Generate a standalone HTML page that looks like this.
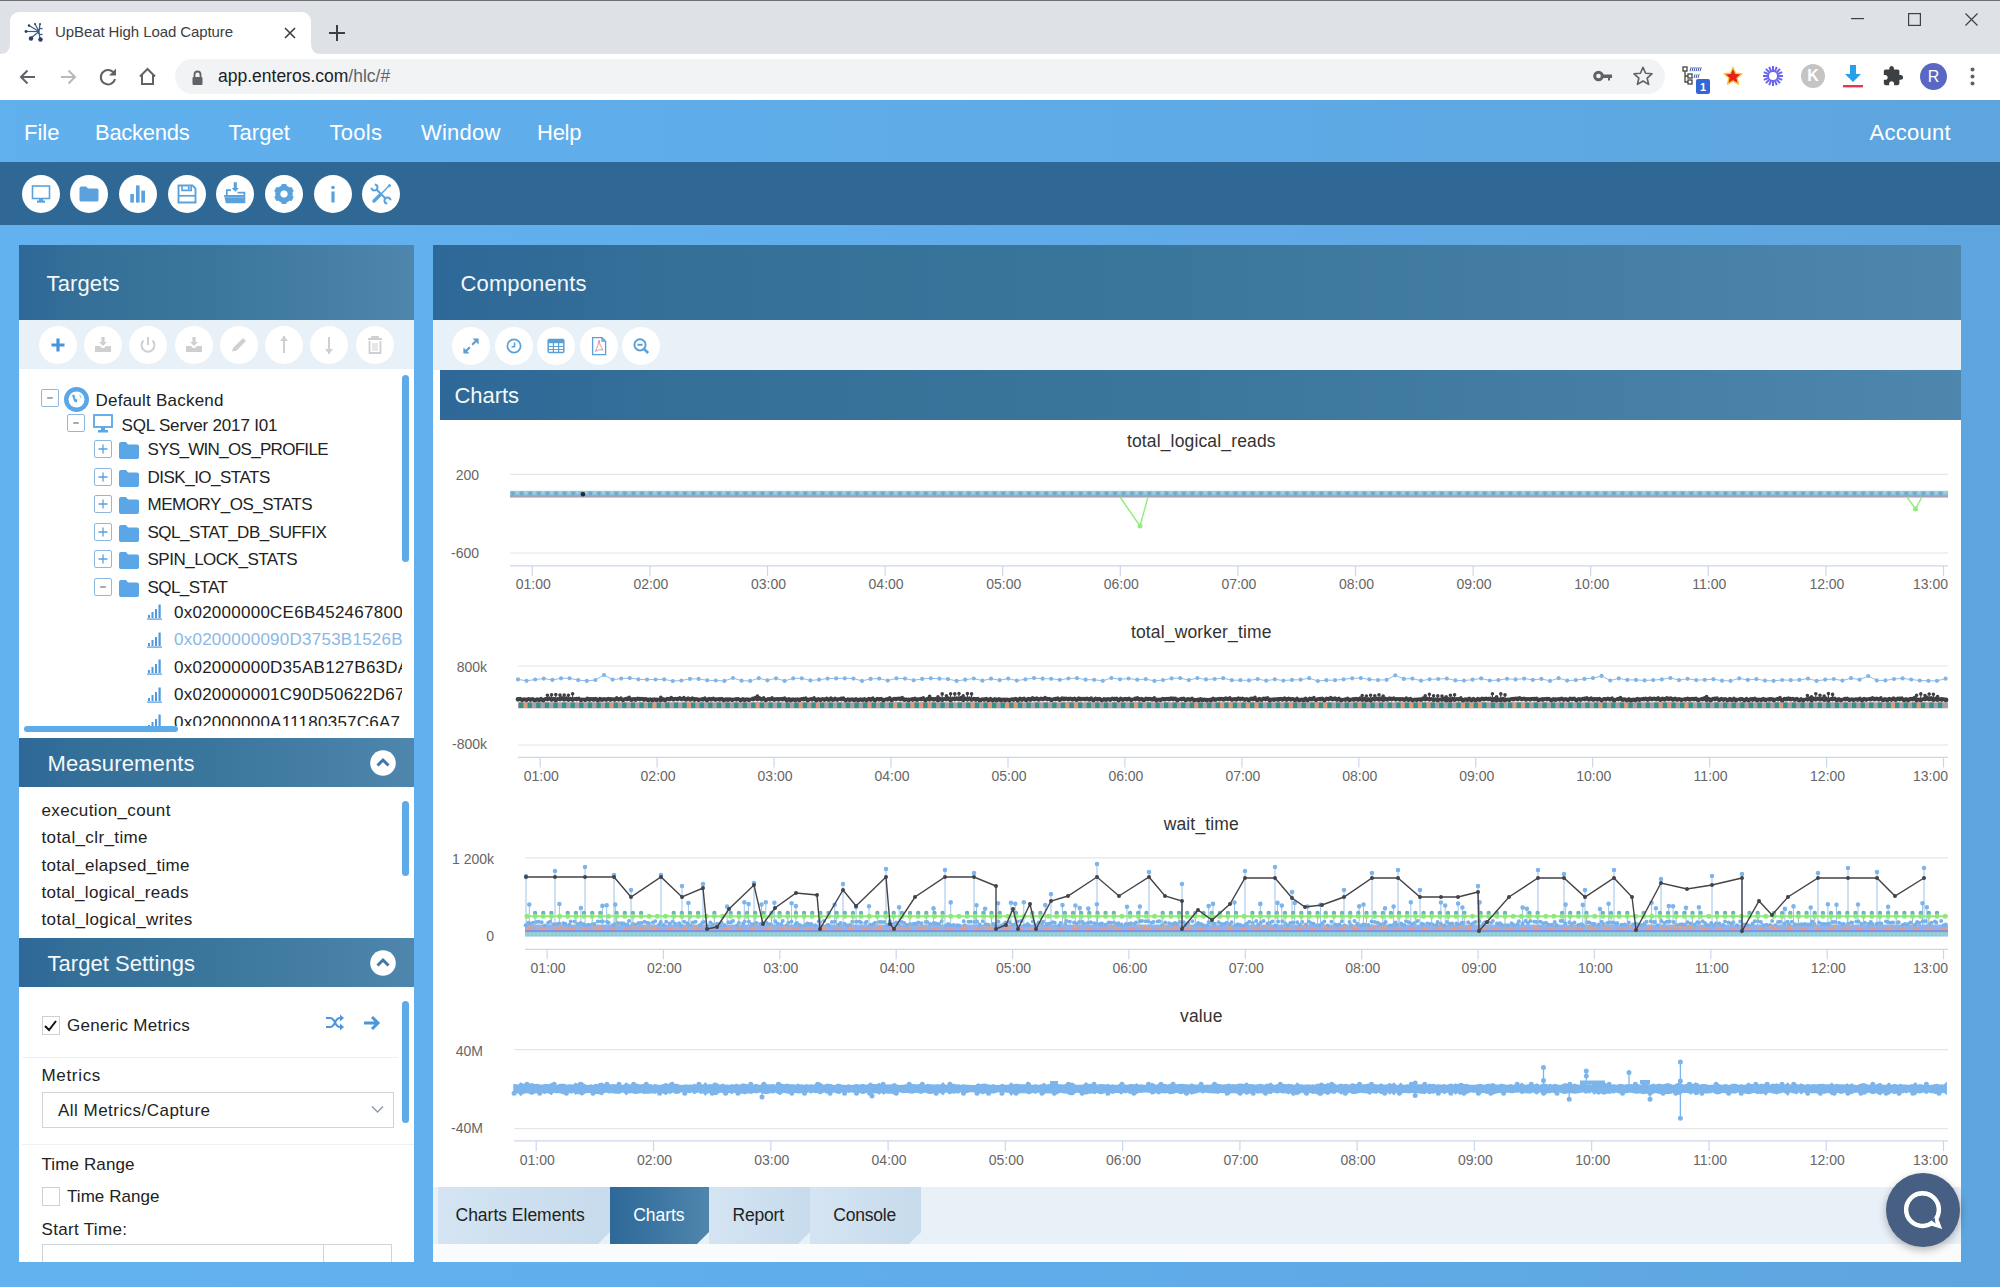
<!DOCTYPE html><html><head><meta charset="utf-8"><title>UpBeat High Load Capture</title><style>
*{box-sizing:border-box;margin:0;padding:0}
html,body{width:2000px;height:1287px;overflow:hidden;background:#62b0ec;font-family:"Liberation Sans",sans-serif}
.a{position:absolute}
.t{position:absolute;white-space:nowrap;line-height:1}
.tbc{position:absolute;width:38px;height:38px;border-radius:50%;background:#fff}
.panel{position:absolute;background:#fff}
.hdr{position:absolute;background:linear-gradient(90deg,#2d6898 0%,#346f98 14%,#3b769c 50%,#4e86ad 100%)}
.ptb{position:absolute;background:#e8f0f8}
.pc{position:absolute;width:38px;height:38px;border-radius:50%;background:#fff}
.sb{position:absolute;width:7px;border-radius:4px;background:#5eabea}
</style></head><body>
<div class="a" style="left:0;top:0;width:2000px;height:54px;background:#dee1e6;border-top:1px solid #6d6f73"></div>
<div class="a" style="left:10px;top:12px;width:301px;height:42px;background:#fff;border-radius:9px 9px 0 0"></div>
<svg class="a" style="left:0;top:44px" width="330" height="10"><path d="M0 10 Q10 10 10 0 L10 10 Z" fill="#fff"/><path d="M311 0 Q311 10 321 10 L311 10 Z" fill="#fff"/></svg>
<svg class="a" style="left:24px;top:22px" width="22" height="22" viewBox="0 0 22 22">
<g stroke="#3d5a8a" stroke-width="1.2" fill="none"><line x1="2" y1="9.5" x2="15" y2="9.5"/><line x1="5" y1="3.5" x2="15" y2="9.5"/><line x1="11" y1="2" x2="15" y2="9.5"/><line x1="16" y1="2" x2="15" y2="9.5"/><line x1="7" y1="16" x2="15" y2="9.5"/><line x1="16" y1="17" x2="15" y2="9.5"/><path d="M18.5 7 A3 3 0 1 0 18.5 12"/></g>
<circle cx="2" cy="9.5" r="1.4" fill="#2b3f66"/><circle cx="7" cy="16.5" r="2.2" fill="#2b3f66"/><circle cx="16.5" cy="17.5" r="2.2" fill="#2b3f66"/><circle cx="5" cy="3.5" r="1.2" fill="#2b3f66"/><circle cx="11" cy="2" r="1" fill="#2b3f66"/><circle cx="16" cy="2" r="1" fill="#2b3f66"/>
</svg>
<div class="t" style="left:55.0px;top:24.10px;font-size:15.00px;color:#3c4043;letter-spacing:-0.09px;">UpBeat High Load Capture</div>
<svg class="a" style="left:284px;top:27px" width="12" height="12"><path d="M1 1L11 11M11 1L1 11" stroke="#3c4043" stroke-width="1.6"/></svg>
<svg class="a" style="left:329px;top:25px" width="16" height="16"><path d="M8 0V16M0 8H16" stroke="#3c4043" stroke-width="2"/></svg>
<svg class="a" style="left:1851px;top:18px" width="13" height="2"><rect width="13" height="1.2" fill="#3c4043"/></svg>
<svg class="a" style="left:1908px;top:13px" width="13" height="13"><rect x="0.6" y="0.6" width="11.8" height="11.8" fill="none" stroke="#3c4043" stroke-width="1.2"/></svg>
<svg class="a" style="left:1965px;top:13px" width="13" height="13"><path d="M0.5 0.5L12.5 12.5M12.5 0.5L0.5 12.5" stroke="#3c4043" stroke-width="1.2"/></svg>
<div class="a" style="left:0;top:54px;width:2000px;height:46px;background:#fff"></div>
<svg class="a" style="left:18px;top:67px" width="20" height="20"><path d="M17 10H3M9.5 3.5L3 10l6.5 6.5" fill="none" stroke="#5f6368" stroke-width="2"/></svg>
<svg class="a" style="left:58px;top:67px" width="20" height="20"><path d="M3 10H17M10.5 3.5L17 10l-6.5 6.5" fill="none" stroke="#b7b9bc" stroke-width="2"/></svg>
<svg class="a" style="left:97px;top:66px" width="22" height="22" viewBox="0 0 22 22"><path d="M17.2 7.5A7.2 7.2 0 1 0 18 13" fill="none" stroke="#5f6368" stroke-width="2"/><path d="M19 2.5V9.5H12Z" fill="#5f6368"/></svg>
<svg class="a" style="left:137px;top:66px" width="21" height="21" viewBox="0 0 21 21"><path d="M3 10.5L10.5 3L18 10.5M5 8.5V18H16V8.5" fill="none" stroke="#5f6368" stroke-width="2"/></svg>
<div class="a" style="left:175px;top:59px;width:1490px;height:35px;background:#f1f3f4;border-radius:18px"></div>
<svg class="a" style="left:191px;top:69.5px" width="13" height="16" viewBox="0 0 13 16"><path d="M3.5 7V4.5a3 3 0 0 1 6 0V7" fill="none" stroke="#5f6368" stroke-width="1.8"/><rect x="1.5" y="7" width="10" height="8" rx="1" fill="#5f6368"/></svg>
<div class="t" style="left:218.0px;top:68.19px;font-size:17.50px;color:#202124;">app.enteros.com<span style="color:#5f6368">/hlc/#</span></div>
<svg class="a" style="left:1593px;top:69px" width="20" height="14" viewBox="0 0 20 14"><circle cx="5.5" cy="7" r="3.8" fill="none" stroke="#5f6368" stroke-width="3"/><path d="M9 5.5H19V9H17V11.5H15V9H9Z" fill="#5f6368"/></svg>
<svg class="a" style="left:1632px;top:65px" width="22" height="22" viewBox="0 0 24 24"><path d="M12 2.5l2.8 6.5 7 .6-5.3 4.6 1.6 6.9L12 17.4 5.9 21.1l1.6-6.9L2.2 9.6l7-.6z" fill="none" stroke="#5f6368" stroke-width="1.8" stroke-linejoin="round"/></svg>
<svg class="a" style="left:1682px;top:66px" width="30" height="30" viewBox="0 0 30 30">
<g fill="none" stroke="#444" stroke-width="1.3"><rect x="1" y="1" width="4" height="4"/><rect x="6" y="8" width="4" height="4"/><rect x="6" y="14" width="4" height="4"/><path d="M3 5V16H6M3 10H6"/></g>
<g stroke="#3a58a8" stroke-width="1"><path d="M8.0 5.2L9.2 1.2M10.0 5.2L11.2 1.2M12.0 5.2L13.2 1.2M14.0 5.2L15.2 1.2M16.0 5.2L17.2 1.2M18.0 5.2L19.2 1.2M12.0 12L13.1 8.3M14.0 12L15.1 8.3M16.0 12L17.1 8.3"/></g>
<rect x="14" y="13" width="14" height="15" rx="2" fill="#3367d6"/><text x="21" y="25" font-size="11" font-weight="bold" fill="#fff" text-anchor="middle" font-family="Liberation Sans">1</text></svg>
<svg class="a" style="left:1722px;top:65px" width="22" height="22" viewBox="0 0 24 24"><path d="M12 2.5l2.8 6.5 7 .6-5.3 4.6 1.6 6.9L12 17.4 5.9 21.1l1.6-6.9L2.2 9.6l7-.6z" fill="#e8221b" stroke="#f7c948" stroke-width="1.5" stroke-linejoin="round"/></svg>
<svg class="a" style="left:1761px;top:64px" width="24" height="24" viewBox="0 0 24 24"><g stroke="#6b63ee" stroke-width="2"><line x1="12" y1="12" x2="22.0" y2="12.0"/><line x1="12" y1="12" x2="21.2" y2="15.8"/><line x1="12" y1="12" x2="19.1" y2="19.1"/><line x1="12" y1="12" x2="15.8" y2="21.2"/><line x1="12" y1="12" x2="12.0" y2="22.0"/><line x1="12" y1="12" x2="8.2" y2="21.2"/><line x1="12" y1="12" x2="4.9" y2="19.1"/><line x1="12" y1="12" x2="2.8" y2="15.8"/><line x1="12" y1="12" x2="2.0" y2="12.0"/><line x1="12" y1="12" x2="2.8" y2="8.2"/><line x1="12" y1="12" x2="4.9" y2="4.9"/><line x1="12" y1="12" x2="8.2" y2="2.8"/><line x1="12" y1="12" x2="12.0" y2="2.0"/><line x1="12" y1="12" x2="15.8" y2="2.8"/><line x1="12" y1="12" x2="19.1" y2="4.9"/><line x1="12" y1="12" x2="21.2" y2="8.2"/></g><circle cx="12" cy="12" r="4" fill="#fff"/></svg>
<div class="a" style="left:1801px;top:64px;width:24px;height:24px;border-radius:50%;background:#c4c4c4;color:#fff;font-size:16px;text-align:center;line-height:24px;font-weight:bold">K</div>
<svg class="a" style="left:1842px;top:63px" width="22" height="26" viewBox="0 0 22 26"><path d="M8 2H14V11H19L11 19L3 11H8Z" fill="#27a0ec"/><rect x="1" y="22" width="20" height="2.4" fill="#e8325a"/></svg>
<svg class="a" style="left:1882px;top:65px" width="22" height="22" viewBox="0 0 24 24"><path d="M20.5 11H19V7c0-1.1-.9-2-2-2h-4V3.5C13 2.1 11.9 1 10.5 1S8 2.1 8 3.5V5H4c-1.1 0-2 .9-2 2v3.8h1.5c1.5 0 2.7 1.2 2.7 2.7S5 16.2 3.5 16.2H2V20c0 1.1.9 2 2 2h3.8v-1.5c0-1.5 1.2-2.7 2.7-2.7s2.7 1.2 2.7 2.7V22H17c1.1 0 2-.9 2-2v-4h1.5c1.4 0 2.5-1.1 2.5-2.5S21.9 11 20.5 11z" fill="#3c4043"/></svg>
<div class="a" style="left:1920px;top:63px;width:27px;height:27px;border-radius:50%;background:#5a68c4;color:#fff;font-size:16px;text-align:center;line-height:27px">R</div>
<svg class="a" style="left:1970px;top:67px" width="5" height="19"><circle cx="2.5" cy="2.5" r="2" fill="#5f6368"/><circle cx="2.5" cy="9.5" r="2" fill="#5f6368"/><circle cx="2.5" cy="16.5" r="2" fill="#5f6368"/></svg>
<div class="a" style="left:0;top:100px;width:2000px;height:62px;background:linear-gradient(90deg,#60b0ee,#5eaae6 60%,#5da5de)"></div>
<div class="t" style="left:24.0px;top:121.68px;font-size:22.00px;color:#fff;">File</div>
<div class="t" style="left:95.0px;top:121.68px;font-size:22.00px;color:#fff;letter-spacing:-0.27px;">Backends</div>
<div class="t" style="left:228.5px;top:121.68px;font-size:22.00px;color:#fff;letter-spacing:0.05px;">Target</div>
<div class="t" style="left:329.5px;top:121.68px;font-size:22.00px;color:#fff;letter-spacing:0.29px;">Tools</div>
<div class="t" style="left:421.0px;top:121.68px;font-size:22.00px;color:#fff;letter-spacing:0.23px;">Window</div>
<div class="t" style="left:537.0px;top:121.68px;font-size:22.00px;color:#fff;letter-spacing:-0.25px;">Help</div>
<div class="t" style="left:1869.5px;top:121.68px;font-size:22.00px;color:#fff;letter-spacing:0.25px;">Account</div>
<div class="a" style="left:0;top:162px;width:2000px;height:63px;background:#2f6895"></div>
<div class="tbc" style="left:21.5px;top:175px"></div>
<svg class="a" style="left:28.5px;top:182px" width="24" height="24" viewBox="-12 -12 24 24"><rect x="-8.5" y="-8" width="17" height="12.5" fill="none" stroke="#5ba2dc" stroke-width="1.6"/><rect x="-2" y="5" width="4" height="2" fill="#5ba2dc"/><rect x="-4" y="6.5" width="8" height="2.2" fill="#5ba2dc"/></svg>
<div class="tbc" style="left:70.2px;top:175px"></div>
<svg class="a" style="left:77.2px;top:182px" width="24" height="24" viewBox="-12 -12 24 24"><path d="M-9.5 -5.5Q-9.5 -7.5 -7.5 -7.5H-3L-1 -5.5H8Q9.5 -5.5 9.5 -4V6Q9.5 7.5 8 7.5H-8Q-9.5 7.5 -9.5 6Z" fill="#5ba2dc"/></svg>
<div class="tbc" style="left:118.9px;top:175px"></div>
<svg class="a" style="left:125.9px;top:182px" width="24" height="24" viewBox="-12 -12 24 24"><rect x="-7.7" y="0" width="3.6" height="8.6" fill="#5ba2dc"/><rect x="-2" y="-8.6" width="3.6" height="17.2" fill="#5ba2dc"/><rect x="3.3" y="-3.4" width="3.7" height="12" fill="#5ba2dc"/></svg>
<div class="tbc" style="left:167.6px;top:175px"></div>
<svg class="a" style="left:174.6px;top:182px" width="24" height="24" viewBox="-12 -12 24 24"><path d="M-8.5 -8.5H5.5L8.5 -5.5V8.5H-8.5Z" fill="none" stroke="#5ba2dc" stroke-width="1.9"/><path d="M-5 -8.5V-3.6H4.2V-8.5" fill="none" stroke="#5ba2dc" stroke-width="1.6"/><rect x="0.8" y="-7.6" width="1.9" height="3" fill="#5ba2dc"/><path d="M-8.5 1.8H8.5" stroke="#5ba2dc" stroke-width="1.7"/></svg>
<div class="tbc" style="left:216.3px;top:175px"></div>
<svg class="a" style="left:223.3px;top:182px" width="24" height="24" viewBox="-12 -12 24 24"><path d="M-1.3 -11.7H1.9V-6H4L0.3 -2.3L-3.4 -6H-1.3Z" fill="#5ba2dc"/><path d="M-8.2 2V-3.8H-4M2.5 -1.3H9.4V9" fill="none" stroke="#5ba2dc" stroke-width="1.8"/><path d="M-11 1H9.8V9.2H-9.2Z" fill="#5ba2dc"/><path d="M-10 3.4H9" stroke="#8cc0ec" stroke-width="0.8"/></svg>
<div class="tbc" style="left:265.0px;top:175px"></div>
<svg class="a" style="left:272.0px;top:182px" width="24" height="24" viewBox="-12 -12 24 24"><circle r="6.2" fill="none" stroke="#5ba2dc" stroke-width="5.2"/><rect x="-2.6" y="-10" width="5.2" height="5" rx="1" fill="#5ba2dc" transform="rotate(0)"/><rect x="-2.6" y="-10" width="5.2" height="5" rx="1" fill="#5ba2dc" transform="rotate(60)"/><rect x="-2.6" y="-10" width="5.2" height="5" rx="1" fill="#5ba2dc" transform="rotate(120)"/><rect x="-2.6" y="-10" width="5.2" height="5" rx="1" fill="#5ba2dc" transform="rotate(180)"/><rect x="-2.6" y="-10" width="5.2" height="5" rx="1" fill="#5ba2dc" transform="rotate(240)"/><rect x="-2.6" y="-10" width="5.2" height="5" rx="1" fill="#5ba2dc" transform="rotate(300)"/><circle r="3.3" fill="#fff"/></svg>
<div class="tbc" style="left:313.7px;top:175px"></div>
<svg class="a" style="left:320.7px;top:182px" width="24" height="24" viewBox="-12 -12 24 24"><circle cx="0" cy="-6.5" r="1.8" fill="#5ba2dc"/><rect x="-1.6" y="-2.5" width="3.2" height="11" fill="#5ba2dc"/></svg>
<div class="tbc" style="left:362.4px;top:175px"></div>
<svg class="a" style="left:369.4px;top:182px" width="24" height="24" viewBox="-12 -12 24 24"><path d="M-4.8 -4.8L5 5" stroke="#5ba2dc" stroke-width="2.1"/><path d="M-6.24 -9.49A3 3 0 1 1 -9.49 -6.24M6.24 9.49A3 3 0 1 1 9.49 6.24" fill="none" stroke="#5ba2dc" stroke-width="2"/><path d="M8.2 -8.2L0 0" stroke="#5ba2dc" stroke-width="1.5"/><path d="M9.4 -9.4L7.6 -7.6" stroke="#5ba2dc" stroke-width="2.6"/><path d="M-1.5 1.5L-7 7" stroke="#5ba2dc" stroke-width="3.4" stroke-linecap="round"/></svg>
<div class="a" style="left:0;top:225px;width:2000px;height:1062px;background:linear-gradient(90deg,#63b2f0 0%,#60acea 50%,#5da5de 100%)"></div>
<div class="panel" style="left:19px;top:245px;width:395px;height:1017px"></div>
<div class="hdr" style="left:19px;top:245px;width:395px;height:75px"></div>
<div class="t" style="left:46.5px;top:272.68px;font-size:22.00px;color:#f4f8fb;letter-spacing:0.14px;">Targets</div>
<div class="ptb" style="left:19px;top:320px;width:395px;height:49px"></div>
<div class="pc" style="left:38.6px;top:326px"></div>
<svg class="a" style="left:45.6px;top:333px" width="24" height="24" viewBox="-12 -12 24 24"><path d="M-6.5 0H6.5M0 -6.5V6.5" stroke="#4a93dc" stroke-width="3.2"/></svg>
<div class="pc" style="left:83.9px;top:326px"></div>
<svg class="a" style="left:90.9px;top:333px" width="24" height="24" viewBox="-12 -12 24 24"><path d="M-1.6 -8H1.6V-3H4L0 1L-4 -3H-1.6Z M-8 1H-3L-1 3H1L3 1H8V7H-8Z" fill="#cfcfcf"/></svg>
<div class="pc" style="left:129.2px;top:326px"></div>
<svg class="a" style="left:136.2px;top:333px" width="24" height="24" viewBox="-12 -12 24 24"><path d="M-4.5 -4.5A6.5 6.5 0 1 0 4.5 -4.5" fill="none" stroke="#cfcfcf" stroke-width="2"/><path d="M0 -8V0" stroke="#cfcfcf" stroke-width="2"/></svg>
<div class="pc" style="left:174.5px;top:326px"></div>
<svg class="a" style="left:181.5px;top:333px" width="24" height="24" viewBox="-12 -12 24 24"><path d="M-1.6 -8H1.6V-3H4L0 1L-4 -3H-1.6Z M-8 1H-3L-1 3H1L3 1H8V7H-8Z" fill="#cfcfcf"/></svg>
<div class="pc" style="left:219.8px;top:326px"></div>
<svg class="a" style="left:226.8px;top:333px" width="24" height="24" viewBox="-12 -12 24 24"><path d="M-6 6L-7 7L-6 3L4 -7L7 -4L-3 6Z" fill="#cfcfcf"/></svg>
<div class="pc" style="left:265.1px;top:326px"></div>
<svg class="a" style="left:272.1px;top:333px" width="24" height="24" viewBox="-12 -12 24 24"><path d="M0 -9V8" stroke="#cfcfcf" stroke-width="2"/><path d="M-4 -4L0 -9L4 -4Z" fill="#cfcfcf"/></svg>
<div class="pc" style="left:310.4px;top:326px"></div>
<svg class="a" style="left:317.4px;top:333px" width="24" height="24" viewBox="-12 -12 24 24"><path d="M0 -8V9" stroke="#cfcfcf" stroke-width="2"/><path d="M-4 4L0 9L4 4Z" fill="#cfcfcf"/></svg>
<div class="pc" style="left:355.7px;top:326px"></div>
<svg class="a" style="left:362.7px;top:333px" width="24" height="24" viewBox="-12 -12 24 24"><path d="M-7 -6H7M-3 -6V-8H3V-6M-5.5 -4V8H5.5V-4" fill="none" stroke="#cfcfcf" stroke-width="1.8"/><path d="M-2 -2V6M0 -2V6M2 -2V6" stroke="#cfcfcf" stroke-width="1"/></svg>
<div class="a" style="left:19px;top:369px;width:383px;height:357px;overflow:hidden">
<div class="a" style="left:22.0px;top:20.0px;width:18px;height:18px;border:1px solid #8fb8e0;border-radius:2px;background:#fff"></div><svg class="a" style="left:22.0px;top:20.0px" width="18" height="18"><path d="M6.2 9H11.8" stroke="#6f7f90" stroke-width="1.3"/></svg><svg class="a" style="left:45px;top:18px" width="25" height="25" viewBox="0 0 25 25"><circle cx="12.5" cy="12.5" r="12.5" fill="#5aa6e6"/><circle cx="12.5" cy="12.5" r="8" fill="#fff"/><path d="M8 8Q10 7 11 9Q10 11 12 12Q14 12 13 15Q11 16 10 14Q9 11 8 8ZM15 7Q17 9 18 12Q16 11 15 7Z" fill="#5aa6e6"/></svg><div class="t" style="left:76.5px;top:22.61px;font-size:17.00px;color:#222;letter-spacing:0.23px;">Default Backend</div><div class="a" style="left:48.0px;top:45.0px;width:18px;height:18px;border:1px solid #8fb8e0;border-radius:2px;background:#fff"></div><svg class="a" style="left:48.0px;top:45.0px" width="18" height="18"><path d="M6.2 9H11.8" stroke="#6f7f90" stroke-width="1.3"/></svg><svg class="a" style="left:74px;top:45px" width="20" height="19" viewBox="0 0 20 19"><rect x="1" y="1" width="18" height="12" fill="none" stroke="#5aa6e6" stroke-width="1.8"/><rect x="8" y="13" width="4" height="3" fill="#5aa6e6"/><rect x="5" y="16" width="10" height="2.5" fill="#5aa6e6"/></svg><div class="t" style="left:102.5px;top:47.61px;font-size:17.00px;color:#222;letter-spacing:-0.17px;">SQL Server 2017 I01</div><div class="a" style="left:75.0px;top:71.1px;width:18px;height:18px;border:1px solid #8fb8e0;border-radius:2px;background:#fff"></div><svg class="a" style="left:75.0px;top:71.1px" width="18" height="18"><path d="M9 4.5V13.5M4.5 9H13.5" stroke="#5aa0dc" stroke-width="1.3"/></svg><svg class="a" style="left:100.0px;top:73.1px" width="20" height="17" viewBox="0 0 20 17"><path d="M0 2Q0 0 2 0H7L9 2.5H18Q20 2.5 20 4.5V15Q20 17 18 17H2Q0 17 0 15Z" fill="#5aa6e6"/></svg><div class="t" style="left:128.5px;top:72.21px;font-size:17.00px;color:#222;letter-spacing:-0.69px;">SYS_WIN_OS_PROFILE</div><div class="a" style="left:75.0px;top:98.5px;width:18px;height:18px;border:1px solid #8fb8e0;border-radius:2px;background:#fff"></div><svg class="a" style="left:75.0px;top:98.5px" width="18" height="18"><path d="M9 4.5V13.5M4.5 9H13.5" stroke="#5aa0dc" stroke-width="1.3"/></svg><svg class="a" style="left:100.0px;top:100.5px" width="20" height="17" viewBox="0 0 20 17"><path d="M0 2Q0 0 2 0H7L9 2.5H18Q20 2.5 20 4.5V15Q20 17 18 17H2Q0 17 0 15Z" fill="#5aa6e6"/></svg><div class="t" style="left:128.5px;top:99.61px;font-size:17.00px;color:#222;letter-spacing:-0.50px;">DISK_IO_STATS</div><div class="a" style="left:75.0px;top:125.9px;width:18px;height:18px;border:1px solid #8fb8e0;border-radius:2px;background:#fff"></div><svg class="a" style="left:75.0px;top:125.9px" width="18" height="18"><path d="M9 4.5V13.5M4.5 9H13.5" stroke="#5aa0dc" stroke-width="1.3"/></svg><svg class="a" style="left:100.0px;top:127.9px" width="20" height="17" viewBox="0 0 20 17"><path d="M0 2Q0 0 2 0H7L9 2.5H18Q20 2.5 20 4.5V15Q20 17 18 17H2Q0 17 0 15Z" fill="#5aa6e6"/></svg><div class="t" style="left:128.5px;top:127.01px;font-size:17.00px;color:#222;letter-spacing:-0.49px;">MEMORY_OS_STATS</div><div class="a" style="left:75.0px;top:153.5px;width:18px;height:18px;border:1px solid #8fb8e0;border-radius:2px;background:#fff"></div><svg class="a" style="left:75.0px;top:153.5px" width="18" height="18"><path d="M9 4.5V13.5M4.5 9H13.5" stroke="#5aa0dc" stroke-width="1.3"/></svg><svg class="a" style="left:100.0px;top:155.5px" width="20" height="17" viewBox="0 0 20 17"><path d="M0 2Q0 0 2 0H7L9 2.5H18Q20 2.5 20 4.5V15Q20 17 18 17H2Q0 17 0 15Z" fill="#5aa6e6"/></svg><div class="t" style="left:128.5px;top:154.61px;font-size:17.00px;color:#222;letter-spacing:-0.47px;">SQL_STAT_DB_SUFFIX</div><div class="a" style="left:75.0px;top:181.3px;width:18px;height:18px;border:1px solid #8fb8e0;border-radius:2px;background:#fff"></div><svg class="a" style="left:75.0px;top:181.3px" width="18" height="18"><path d="M9 4.5V13.5M4.5 9H13.5" stroke="#5aa0dc" stroke-width="1.3"/></svg><svg class="a" style="left:100.0px;top:183.3px" width="20" height="17" viewBox="0 0 20 17"><path d="M0 2Q0 0 2 0H7L9 2.5H18Q20 2.5 20 4.5V15Q20 17 18 17H2Q0 17 0 15Z" fill="#5aa6e6"/></svg><div class="t" style="left:128.5px;top:182.41px;font-size:17.00px;color:#222;letter-spacing:-0.50px;">SPIN_LOCK_STATS</div><div class="a" style="left:75.0px;top:208.8px;width:18px;height:18px;border:1px solid #8fb8e0;border-radius:2px;background:#fff"></div><svg class="a" style="left:75.0px;top:208.8px" width="18" height="18"><path d="M6.2 9H11.8" stroke="#6f7f90" stroke-width="1.3"/></svg><svg class="a" style="left:100.0px;top:210.8px" width="20" height="17" viewBox="0 0 20 17"><path d="M0 2Q0 0 2 0H7L9 2.5H18Q20 2.5 20 4.5V15Q20 17 18 17H2Q0 17 0 15Z" fill="#5aa6e6"/></svg><div class="t" style="left:128.5px;top:209.91px;font-size:17.00px;color:#222;letter-spacing:-0.56px;">SQL_STAT</div><svg class="a" style="left:128.0px;top:235.4px" width="16" height="16" viewBox="0 0 16 16"><g fill="#4f9be0"><rect x="1" y="11" width="2" height="3"/><rect x="4.5" y="8" width="2" height="6"/><rect x="8" y="5" width="2" height="9"/><rect x="11.5" y="0.5" width="2.2" height="13.5"/><rect x="0" y="14.5" width="15" height="1.2"/></g></svg><div class="t" style="left:155.0px;top:235.01px;font-size:17.00px;color:#222;letter-spacing:0.25px;">0x02000000CE6B452467800</div><svg class="a" style="left:128.0px;top:262.9px" width="16" height="16" viewBox="0 0 16 16"><g fill="#4f9be0"><rect x="1" y="11" width="2" height="3"/><rect x="4.5" y="8" width="2" height="6"/><rect x="8" y="5" width="2" height="9"/><rect x="11.5" y="0.5" width="2.2" height="13.5"/><rect x="0" y="14.5" width="15" height="1.2"/></g></svg><div class="t" style="left:155.0px;top:262.46px;font-size:17.00px;color:#8ab8e6;letter-spacing:0.25px;">0x0200000090D3753B1526B</div><svg class="a" style="left:128.0px;top:290.3px" width="16" height="16" viewBox="0 0 16 16"><g fill="#4f9be0"><rect x="1" y="11" width="2" height="3"/><rect x="4.5" y="8" width="2" height="6"/><rect x="8" y="5" width="2" height="9"/><rect x="11.5" y="0.5" width="2.2" height="13.5"/><rect x="0" y="14.5" width="15" height="1.2"/></g></svg><div class="t" style="left:155.0px;top:289.91px;font-size:17.00px;color:#222;letter-spacing:0.25px;">0x02000000D35AB127B63DA</div><svg class="a" style="left:128.0px;top:317.8px" width="16" height="16" viewBox="0 0 16 16"><g fill="#4f9be0"><rect x="1" y="11" width="2" height="3"/><rect x="4.5" y="8" width="2" height="6"/><rect x="8" y="5" width="2" height="9"/><rect x="11.5" y="0.5" width="2.2" height="13.5"/><rect x="0" y="14.5" width="15" height="1.2"/></g></svg><div class="t" style="left:155.0px;top:317.36px;font-size:17.00px;color:#222;letter-spacing:0.25px;">0x020000001C90D50622D67</div><svg class="a" style="left:128.0px;top:345.2px" width="16" height="16" viewBox="0 0 16 16"><g fill="#4f9be0"><rect x="1" y="11" width="2" height="3"/><rect x="4.5" y="8" width="2" height="6"/><rect x="8" y="5" width="2" height="9"/><rect x="11.5" y="0.5" width="2.2" height="13.5"/><rect x="0" y="14.5" width="15" height="1.2"/></g></svg><div class="t" style="left:155.0px;top:344.81px;font-size:17.00px;color:#222;letter-spacing:0.25px;">0x02000000A11180357C6A7</div>
</div>
<div class="sb" style="left:402px;top:375px;height:187px"></div>
<div class="a" style="left:24px;top:725.5px;width:154px;height:6.5px;border-radius:4px;background:#5eabea"></div>
<div class="hdr" style="left:19px;top:738px;width:395px;height:49px"></div>
<div class="t" style="left:47.5px;top:752.68px;font-size:22.00px;color:#f4f8fb;letter-spacing:0.14px;">Measurements</div>
<svg class="a" style="left:370.0px;top:749.7px" width="26" height="26" viewBox="0 0 26 26"><circle cx="13" cy="13" r="12.8" fill="#fff"/><path d="M7.5 15.5L13 10L18.5 15.5" fill="none" stroke="#3f77a5" stroke-width="3"/></svg>
<div class="t" style="left:41.5px;top:801.91px;font-size:17.00px;color:#222;letter-spacing:0.36px;">execution_count</div>
<div class="t" style="left:41.5px;top:829.26px;font-size:17.00px;color:#222;letter-spacing:0.38px;">total_clr_time</div>
<div class="t" style="left:41.5px;top:856.61px;font-size:17.00px;color:#222;letter-spacing:0.31px;">total_elapsed_time</div>
<div class="t" style="left:41.5px;top:883.96px;font-size:17.00px;color:#222;letter-spacing:0.29px;">total_logical_reads</div>
<div class="t" style="left:41.5px;top:911.31px;font-size:17.00px;color:#222;letter-spacing:0.38px;">total_logical_writes</div>
<div class="sb" style="left:402px;top:801px;height:75px"></div>
<div class="hdr" style="left:19px;top:938px;width:395px;height:49px"></div>
<div class="t" style="left:47.5px;top:952.68px;font-size:22.00px;color:#f4f8fb;letter-spacing:0.05px;">Target Settings</div>
<svg class="a" style="left:370.0px;top:949.7px" width="26" height="26" viewBox="0 0 26 26"><circle cx="13" cy="13" r="12.8" fill="#fff"/><path d="M7.5 15.5L13 10L18.5 15.5" fill="none" stroke="#3f77a5" stroke-width="3"/></svg>
<div class="a" style="left:41.5px;top:1016px;width:18.5px;height:19px;border:1px solid #d0d0d0;background:#fff"></div>
<svg class="a" style="left:43px;top:1018px" width="15" height="15"><path d="M2 8L6 12L13 3" fill="none" stroke="#111" stroke-width="2"/></svg>
<div class="t" style="left:67.0px;top:1016.91px;font-size:17.00px;color:#222;letter-spacing:0.26px;">Generic Metrics</div>
<svg class="a" style="left:325px;top:1014px" width="20" height="17" viewBox="0 0 20 17"><path d="M1 4H5Q8 4 10 8.5Q12 13 15 13H18M1 13H5Q8 13 10 8.5Q12 4 15 4H18" fill="none" stroke="#4c97da" stroke-width="2"/><path d="M15 0.5L19 4L15 7.5ZM15 9.5L19 13L15 16.5Z" fill="#4c97da"/></svg>
<svg class="a" style="left:363px;top:1015px" width="18" height="16" viewBox="0 0 18 16"><path d="M1 8H15M9 2L15 8L9 14" fill="none" stroke="#4c97da" stroke-width="3"/></svg>
<div class="a" style="left:22px;top:1057px;width:376px;height:1px;background:#eef0f2"></div>
<div class="t" style="left:41.5px;top:1067.41px;font-size:17.00px;color:#222;letter-spacing:0.67px;">Metrics</div>
<div class="a" style="left:42px;top:1092px;width:352px;height:36px;border:1px solid #cfd4d9;background:#fff"></div>
<div class="t" style="left:58.0px;top:1101.91px;font-size:17.00px;color:#222;letter-spacing:0.47px;">All Metrics/Capture</div>
<svg class="a" style="left:371px;top:1105px" width="13" height="9"><path d="M1 1.5L6.5 7L12 1.5" fill="none" stroke="#8a9bb0" stroke-width="1.5"/></svg>
<div class="sb" style="left:402px;top:1001px;height:122px"></div>
<div class="a" style="left:22px;top:1144px;width:392px;height:1px;background:#eef0f2"></div>
<div class="t" style="left:41.5px;top:1155.61px;font-size:17.00px;color:#222;letter-spacing:0.12px;">Time Range</div>
<div class="a" style="left:41.5px;top:1187px;width:18.5px;height:19px;border:1px solid #d0d0d0;background:#fff"></div>
<div class="t" style="left:67.0px;top:1187.61px;font-size:17.00px;color:#222;letter-spacing:0.06px;">Time Range</div>
<div class="t" style="left:41.5px;top:1220.61px;font-size:17.00px;color:#222;letter-spacing:0.32px;">Start Time:</div>
<div class="a" style="left:42px;top:1244px;width:350px;height:20px;border:1px solid #cfd4d9;border-bottom:none"></div>
<div class="a" style="left:323px;top:1244px;width:1px;height:18px;background:#cfd4d9"></div>
<div class="a" style="left:0;top:1262px;width:2000px;height:25px;background:linear-gradient(90deg,#63b2f0 0%,#60acea 50%,#5da5de 100%)"></div>
<div class="panel" style="left:433px;top:245px;width:1528px;height:1017px"></div>
<div class="hdr" style="left:433px;top:245px;width:1528px;height:75px"></div>
<div class="t" style="left:460.5px;top:272.68px;font-size:22.00px;color:#f4f8fb;letter-spacing:0.14px;">Components</div>
<div class="ptb" style="left:433px;top:320px;width:1528px;height:50px"></div>
<div class="pc" style="left:452.0px;top:327px"></div>
<svg class="a" style="left:459.0px;top:334px" width="24" height="24" viewBox="-12 -12 24 24"><path d="M-5.2 5.2L-1.2 1.2M1.2 -1.2L5.2 -5.2" stroke="#5a9fd8" stroke-width="2.2"/><path d="M1.5 -7.6H7.6V-1.5Z M-7.6 1.5V7.6H-1.5Z" fill="#5a9fd8"/></svg>
<div class="pc" style="left:494.6px;top:327px"></div>
<svg class="a" style="left:501.6px;top:334px" width="24" height="24" viewBox="-12 -12 24 24"><circle r="6.6" fill="none" stroke="#5a9fd8" stroke-width="1.7"/><path d="M0.5 -3.5V0.8H-2.5" fill="none" stroke="#5a9fd8" stroke-width="1.6"/></svg>
<div class="pc" style="left:537.2px;top:327px"></div>
<svg class="a" style="left:544.2px;top:334px" width="24" height="24" viewBox="-12 -12 24 24"><rect x="-7.8" y="-6.4" width="15.6" height="12.8" rx="1" fill="none" stroke="#5a9fd8" stroke-width="1.5"/><rect x="-7.8" y="-6.4" width="15.6" height="3.6" fill="#5a9fd8"/><path d="M-7.8 0.5H7.8M-7.8 3.5H7.8M-2.6 -6V6M2.6 -6V6" stroke="#5a9fd8" stroke-width="1.2"/></svg>
<div class="pc" style="left:579.8px;top:327px"></div>
<svg class="a" style="left:586.8px;top:334px" width="24" height="24" viewBox="-12 -12 24 24"><path d="M-6.4 -8.4H3L6.6 -4.8V8.6H-6.4Z M3 -8.4V-4.8H6.6" fill="none" stroke="#5a9fd8" stroke-width="1.3"/><path d="M-3.5 5.5Q-0.5 -1 0 -6Q0.5 0 4 4Q0 2.5 -3.5 5.5Z" fill="none" stroke="#d98ba0" stroke-width="0.9"/></svg>
<div class="pc" style="left:622.4px;top:327px"></div>
<svg class="a" style="left:629.4px;top:334px" width="24" height="24" viewBox="-12 -12 24 24"><circle cx="-1" cy="-1.2" r="5.6" fill="none" stroke="#5a9fd8" stroke-width="2"/><path d="M3 2.8L7.2 7" stroke="#5a9fd8" stroke-width="2.6"/><path d="M-3.6 -1.2H1.6" stroke="#5a9fd8" stroke-width="2"/></svg>
<div class="hdr" style="left:440px;top:370px;width:1521px;height:50px"></div>
<div class="t" style="left:454.5px;top:385.38px;font-size:22.00px;color:#f4f8fb;letter-spacing:-0.06px;">Charts</div>
<svg class="a" style="left:0;top:0" width="2000" height="1287" viewBox="0 0 2000 1287" font-family="Liberation Sans, sans-serif"><text x="1201.3" y="446.5" font-size="17.5" fill="#333" text-anchor="middle" letter-spacing="0.15">total_logical_reads</text><path d="M510 474.3H1948M510 553.0H1948" stroke="#e6e6e6" stroke-width="1.2"/><path d="M510 565.8H1948" stroke="#ccd6eb" stroke-width="1.2"/><text x="479" y="480.3" font-size="14" fill="#666" text-anchor="end">200</text><text x="479" y="558.3" font-size="14" fill="#666" text-anchor="end">-600</text><path d="M532.3 565.8v10M649.9 565.8v10M767.5 565.8v10M885.1 565.8v10M1002.7 565.8v10M1120.3 565.8v10M1237.9 565.8v10M1355.5 565.8v10M1473.1 565.8v10M1590.7 565.8v10M1708.3 565.8v10M1825.9 565.8v10M1943.5 565.8v10" stroke="#ccd6eb" stroke-width="1.2"/><text x="533.3" y="589.4" font-size="14" fill="#666" text-anchor="middle">01:00</text><text x="650.9" y="589.4" font-size="14" fill="#666" text-anchor="middle">02:00</text><text x="768.5" y="589.4" font-size="14" fill="#666" text-anchor="middle">03:00</text><text x="886.1" y="589.4" font-size="14" fill="#666" text-anchor="middle">04:00</text><text x="1003.7" y="589.4" font-size="14" fill="#666" text-anchor="middle">05:00</text><text x="1121.3" y="589.4" font-size="14" fill="#666" text-anchor="middle">06:00</text><text x="1238.9" y="589.4" font-size="14" fill="#666" text-anchor="middle">07:00</text><text x="1356.5" y="589.4" font-size="14" fill="#666" text-anchor="middle">08:00</text><text x="1474.1" y="589.4" font-size="14" fill="#666" text-anchor="middle">09:00</text><text x="1591.7" y="589.4" font-size="14" fill="#666" text-anchor="middle">10:00</text><text x="1709.3" y="589.4" font-size="14" fill="#666" text-anchor="middle">11:00</text><text x="1826.9" y="589.4" font-size="14" fill="#666" text-anchor="middle">12:00</text><text x="1948" y="589.4" font-size="14" fill="#666" text-anchor="end">13:00</text><text x="1201.3" y="638.3" font-size="17.5" fill="#333" text-anchor="middle" letter-spacing="0.15">total_worker_time</text><path d="M518 666.0H1948M518 745.0H1948" stroke="#e6e6e6" stroke-width="1.2"/><path d="M518 757.4H1948" stroke="#ccd6eb" stroke-width="1.2"/><text x="487" y="672.0" font-size="14" fill="#666" text-anchor="end">800k</text><text x="487" y="749.3" font-size="14" fill="#666" text-anchor="end">-800k</text><path d="M540.2 757.4v10M657.1 757.4v10M774.1 757.4v10M891.0 757.4v10M1008.0 757.4v10M1124.9 757.4v10M1241.9 757.4v10M1358.8 757.4v10M1475.7 757.4v10M1592.7 757.4v10M1709.6 757.4v10M1826.6 757.4v10M1943.5 757.4v10" stroke="#ccd6eb" stroke-width="1.2"/><text x="541.2" y="781.0" font-size="14" fill="#666" text-anchor="middle">01:00</text><text x="658.1" y="781.0" font-size="14" fill="#666" text-anchor="middle">02:00</text><text x="775.1" y="781.0" font-size="14" fill="#666" text-anchor="middle">03:00</text><text x="892.0" y="781.0" font-size="14" fill="#666" text-anchor="middle">04:00</text><text x="1009.0" y="781.0" font-size="14" fill="#666" text-anchor="middle">05:00</text><text x="1125.9" y="781.0" font-size="14" fill="#666" text-anchor="middle">06:00</text><text x="1242.9" y="781.0" font-size="14" fill="#666" text-anchor="middle">07:00</text><text x="1359.8" y="781.0" font-size="14" fill="#666" text-anchor="middle">08:00</text><text x="1476.7" y="781.0" font-size="14" fill="#666" text-anchor="middle">09:00</text><text x="1593.7" y="781.0" font-size="14" fill="#666" text-anchor="middle">10:00</text><text x="1710.6" y="781.0" font-size="14" fill="#666" text-anchor="middle">11:00</text><text x="1827.6" y="781.0" font-size="14" fill="#666" text-anchor="middle">12:00</text><text x="1948" y="781.0" font-size="14" fill="#666" text-anchor="end">13:00</text><text x="1201.3" y="830.1" font-size="17.5" fill="#333" text-anchor="middle" letter-spacing="0.15">wait_time</text><path d="M525 857.8H1948M525 935.2H1948" stroke="#e6e6e6" stroke-width="1.2"/><path d="M525 949.3H1948" stroke="#ccd6eb" stroke-width="1.2"/><text x="494" y="864.0" font-size="14" fill="#666" text-anchor="end">1 200k</text><text x="494" y="941.0" font-size="14" fill="#666" text-anchor="end">0</text><path d="M547.1 949.3v10M663.4 949.3v10M779.8 949.3v10M896.2 949.3v10M1012.6 949.3v10M1128.9 949.3v10M1245.3 949.3v10M1361.7 949.3v10M1478.1 949.3v10M1594.4 949.3v10M1710.8 949.3v10M1827.2 949.3v10M1943.5 949.3v10" stroke="#ccd6eb" stroke-width="1.2"/><text x="548.1" y="972.9" font-size="14" fill="#666" text-anchor="middle">01:00</text><text x="664.4" y="972.9" font-size="14" fill="#666" text-anchor="middle">02:00</text><text x="780.8" y="972.9" font-size="14" fill="#666" text-anchor="middle">03:00</text><text x="897.2" y="972.9" font-size="14" fill="#666" text-anchor="middle">04:00</text><text x="1013.6" y="972.9" font-size="14" fill="#666" text-anchor="middle">05:00</text><text x="1129.9" y="972.9" font-size="14" fill="#666" text-anchor="middle">06:00</text><text x="1246.3" y="972.9" font-size="14" fill="#666" text-anchor="middle">07:00</text><text x="1362.7" y="972.9" font-size="14" fill="#666" text-anchor="middle">08:00</text><text x="1479.1" y="972.9" font-size="14" fill="#666" text-anchor="middle">09:00</text><text x="1595.4" y="972.9" font-size="14" fill="#666" text-anchor="middle">10:00</text><text x="1711.8" y="972.9" font-size="14" fill="#666" text-anchor="middle">11:00</text><text x="1828.2" y="972.9" font-size="14" fill="#666" text-anchor="middle">12:00</text><text x="1948" y="972.9" font-size="14" fill="#666" text-anchor="end">13:00</text><text x="1201.3" y="1021.9" font-size="17.5" fill="#333" text-anchor="middle" letter-spacing="0.15">value</text><path d="M514 1049.6H1948M514 1128.6H1948" stroke="#e6e6e6" stroke-width="1.2"/><path d="M514 1140.9H1948" stroke="#ccd6eb" stroke-width="1.2"/><text x="483" y="1055.8" font-size="14" fill="#666" text-anchor="end">40M</text><text x="483" y="1133.2" font-size="14" fill="#666" text-anchor="end">-40M</text><path d="M536.2 1140.9v10M653.5 1140.9v10M770.8 1140.9v10M888.1 1140.9v10M1005.3 1140.9v10M1122.6 1140.9v10M1239.9 1140.9v10M1357.1 1140.9v10M1474.4 1140.9v10M1591.7 1140.9v10M1709.0 1140.9v10M1826.2 1140.9v10M1943.5 1140.9v10" stroke="#ccd6eb" stroke-width="1.2"/><text x="537.2" y="1164.5" font-size="14" fill="#666" text-anchor="middle">01:00</text><text x="654.5" y="1164.5" font-size="14" fill="#666" text-anchor="middle">02:00</text><text x="771.8" y="1164.5" font-size="14" fill="#666" text-anchor="middle">03:00</text><text x="889.1" y="1164.5" font-size="14" fill="#666" text-anchor="middle">04:00</text><text x="1006.3" y="1164.5" font-size="14" fill="#666" text-anchor="middle">05:00</text><text x="1123.6" y="1164.5" font-size="14" fill="#666" text-anchor="middle">06:00</text><text x="1240.9" y="1164.5" font-size="14" fill="#666" text-anchor="middle">07:00</text><text x="1358.1" y="1164.5" font-size="14" fill="#666" text-anchor="middle">08:00</text><text x="1475.4" y="1164.5" font-size="14" fill="#666" text-anchor="middle">09:00</text><text x="1592.7" y="1164.5" font-size="14" fill="#666" text-anchor="middle">10:00</text><text x="1710.0" y="1164.5" font-size="14" fill="#666" text-anchor="middle">11:00</text><text x="1827.2" y="1164.5" font-size="14" fill="#666" text-anchor="middle">12:00</text><text x="1948" y="1164.5" font-size="14" fill="#666" text-anchor="end">13:00</text><rect x="510" y="490.8" width="1438" height="3.4" fill="#8ec6d6"/><rect x="510" y="494.2" width="1438" height="2.4" fill="#7fb2e0"/><path d="M510 496.6H1948" stroke="#9298a6" stroke-width="0.9"/><path d="M510 497.4H1948" stroke="#f3b3bb" stroke-width="1"/><path d="M513 493.6h0M521.6 493.6h0M530.2 493.6h0M538.8 493.6h0M547.4 493.6h0M556 493.6h0M564.6 493.6h0M573.2 493.6h0M581.8 493.6h0M590.4 493.6h0M599 493.6h0M607.6 493.6h0M616.2 493.6h0M624.8 493.6h0M633.4 493.6h0M642 493.6h0M650.6 493.6h0M659.2 493.6h0M667.8 493.6h0M676.4 493.6h0M685 493.6h0M693.6 493.6h0M702.2 493.6h0M710.8 493.6h0M719.4 493.6h0M728 493.6h0M736.6 493.6h0M745.2 493.6h0M753.8 493.6h0M762.4 493.6h0M771 493.6h0M779.6 493.6h0M788.2 493.6h0M796.8 493.6h0M805.4 493.6h0M814 493.6h0M822.6 493.6h0M831.2 493.6h0M839.8 493.6h0M848.4 493.6h0M857 493.6h0M865.6 493.6h0M874.2 493.6h0M882.8 493.6h0M891.4 493.6h0M900 493.6h0M908.6 493.6h0M917.2 493.6h0M925.8 493.6h0M934.4 493.6h0M943 493.6h0M951.6 493.6h0M960.2 493.6h0M968.8 493.6h0M977.4 493.6h0M986 493.6h0M994.6 493.6h0M1003.2 493.6h0M1011.8 493.6h0M1020.4 493.6h0M1029 493.6h0M1037.6 493.6h0M1046.2 493.6h0M1054.8 493.6h0M1063.4 493.6h0M1072 493.6h0M1080.6 493.6h0M1089.2 493.6h0M1097.8 493.6h0M1106.4 493.6h0M1115 493.6h0M1123.6 493.6h0M1132.2 493.6h0M1140.8 493.6h0M1149.4 493.6h0M1158 493.6h0M1166.6 493.6h0M1175.2 493.6h0M1183.8 493.6h0M1192.4 493.6h0M1201 493.6h0M1209.6 493.6h0M1218.2 493.6h0M1226.8 493.6h0M1235.4 493.6h0M1244 493.6h0M1252.6 493.6h0M1261.2 493.6h0M1269.8 493.6h0M1278.4 493.6h0M1287 493.6h0M1295.6 493.6h0M1304.2 493.6h0M1312.8 493.6h0M1321.4 493.6h0M1330 493.6h0M1338.6 493.6h0M1347.2 493.6h0M1355.8 493.6h0M1364.4 493.6h0M1373 493.6h0M1381.6 493.6h0M1390.2 493.6h0M1398.8 493.6h0M1407.4 493.6h0M1416 493.6h0M1424.6 493.6h0M1433.2 493.6h0M1441.8 493.6h0M1450.4 493.6h0M1459 493.6h0M1467.6 493.6h0M1476.2 493.6h0M1484.8 493.6h0M1493.4 493.6h0M1502 493.6h0M1510.6 493.6h0M1519.2 493.6h0M1527.8 493.6h0M1536.4 493.6h0M1545 493.6h0M1553.6 493.6h0M1562.2 493.6h0M1570.8 493.6h0M1579.4 493.6h0M1588 493.6h0M1596.6 493.6h0M1605.2 493.6h0M1613.8 493.6h0M1622.4 493.6h0M1631 493.6h0M1639.6 493.6h0M1648.2 493.6h0M1656.8 493.6h0M1665.4 493.6h0M1674 493.6h0M1682.6 493.6h0M1691.2 493.6h0M1699.8 493.6h0M1708.4 493.6h0M1717 493.6h0M1725.6 493.6h0M1734.2 493.6h0M1742.8 493.6h0M1751.4 493.6h0M1760 493.6h0M1768.6 493.6h0M1777.2 493.6h0M1785.8 493.6h0M1794.4 493.6h0M1803 493.6h0M1811.6 493.6h0M1820.2 493.6h0M1828.8 493.6h0M1837.4 493.6h0M1846 493.6h0M1854.6 493.6h0M1863.2 493.6h0M1871.8 493.6h0M1880.4 493.6h0M1889 493.6h0M1897.6 493.6h0M1906.2 493.6h0M1914.8 493.6h0M1923.4 493.6h0M1932 493.6h0M1940.6 493.6h0" stroke="#72a9c9" stroke-width="4" stroke-linecap="round"/><path d="M517.3 492.2h0M525.9 492.2h0M534.5 492.2h0M543.1 492.2h0M551.7 492.2h0M560.3 492.2h0M568.9 492.2h0M577.5 492.2h0M586.1 492.2h0M594.7 492.2h0M603.3 492.2h0M611.9 492.2h0M620.5 492.2h0M629.1 492.2h0M637.7 492.2h0M646.3 492.2h0M654.9 492.2h0M663.5 492.2h0M672.1 492.2h0M680.7 492.2h0M689.3 492.2h0M697.9 492.2h0M706.5 492.2h0M715.1 492.2h0M723.7 492.2h0M732.3 492.2h0M740.9 492.2h0M749.5 492.2h0M758.1 492.2h0M766.7 492.2h0M775.3 492.2h0M783.9 492.2h0M792.5 492.2h0M801.1 492.2h0M809.7 492.2h0M818.3 492.2h0M826.9 492.2h0M835.5 492.2h0M844.1 492.2h0M852.7 492.2h0M861.3 492.2h0M869.9 492.2h0M878.5 492.2h0M887.1 492.2h0M895.7 492.2h0M904.3 492.2h0M912.9 492.2h0M921.5 492.2h0M930.1 492.2h0M938.7 492.2h0M947.3 492.2h0M955.9 492.2h0M964.5 492.2h0M973.1 492.2h0M981.7 492.2h0M990.3 492.2h0M998.9 492.2h0M1007.5 492.2h0M1016.1 492.2h0M1024.7 492.2h0M1033.3 492.2h0M1041.9 492.2h0M1050.5 492.2h0M1059.1 492.2h0M1067.7 492.2h0M1076.3 492.2h0M1084.9 492.2h0M1093.5 492.2h0M1102.1 492.2h0M1110.7 492.2h0M1119.3 492.2h0M1127.9 492.2h0M1136.5 492.2h0M1145.1 492.2h0M1153.7 492.2h0M1162.3 492.2h0M1170.9 492.2h0M1179.5 492.2h0M1188.1 492.2h0M1196.7 492.2h0M1205.3 492.2h0M1213.9 492.2h0M1222.5 492.2h0M1231.1 492.2h0M1239.7 492.2h0M1248.3 492.2h0M1256.9 492.2h0M1265.5 492.2h0M1274.1 492.2h0M1282.7 492.2h0M1291.3 492.2h0M1299.9 492.2h0M1308.5 492.2h0M1317.1 492.2h0M1325.7 492.2h0M1334.3 492.2h0M1342.9 492.2h0M1351.5 492.2h0M1360.1 492.2h0M1368.7 492.2h0M1377.3 492.2h0M1385.9 492.2h0M1394.5 492.2h0M1403.1 492.2h0M1411.7 492.2h0M1420.3 492.2h0M1428.9 492.2h0M1437.5 492.2h0M1446.1 492.2h0M1454.7 492.2h0M1463.3 492.2h0M1471.9 492.2h0M1480.5 492.2h0M1489.1 492.2h0M1497.7 492.2h0M1506.3 492.2h0M1514.9 492.2h0M1523.5 492.2h0M1532.1 492.2h0M1540.7 492.2h0M1549.3 492.2h0M1557.9 492.2h0M1566.5 492.2h0M1575.1 492.2h0M1583.7 492.2h0M1592.3 492.2h0M1600.9 492.2h0M1609.5 492.2h0M1618.1 492.2h0M1626.7 492.2h0M1635.3 492.2h0M1643.9 492.2h0M1652.5 492.2h0M1661.1 492.2h0M1669.7 492.2h0M1678.3 492.2h0M1686.9 492.2h0M1695.5 492.2h0M1704.1 492.2h0M1712.7 492.2h0M1721.3 492.2h0M1729.9 492.2h0M1738.5 492.2h0M1747.1 492.2h0M1755.7 492.2h0M1764.3 492.2h0M1772.9 492.2h0M1781.5 492.2h0M1790.1 492.2h0M1798.7 492.2h0M1807.3 492.2h0M1815.9 492.2h0M1824.5 492.2h0M1833.1 492.2h0M1841.7 492.2h0M1850.3 492.2h0M1858.9 492.2h0M1867.5 492.2h0M1876.1 492.2h0M1884.7 492.2h0M1893.3 492.2h0M1901.9 492.2h0M1910.5 492.2h0M1919.1 492.2h0M1927.7 492.2h0M1936.3 492.2h0M1944.9 492.2h0" stroke="#a2d8de" stroke-width="2.5" stroke-linecap="round"/><path d="M583 494.3h0" stroke="#1f2a3a" stroke-width="4.5" stroke-linecap="round"/><path d="M1120 497L1140 526L1148 497M1907 497L1915.5 509L1922 497" fill="none" stroke="#90ed7d" stroke-width="1.4"/><path d="M1140 526h0M1915.5 509h0" stroke="#90ed7d" stroke-width="5" stroke-linecap="round"/><path d="M518 679.4 L526.6 680.8 L535.2 679.5 L543.8 678.6 L552.4 679.9 L561 678.3 L569.6 678.3 L578.2 680.1 L586.8 680.9 L595.4 680 L604 675 L612.6 679.6 L621.2 678.6 L629.8 678.1 L638.4 679.3 L647 679.6 L655.6 679.5 L664.2 679.4 L672.8 681 L681.4 680.5 L690 678.9 L698.6 678.9 L707.2 680.3 L715.8 680.5 L724.4 680.9 L733 678 L741.6 680.7 L750.2 680.9 L758.8 678.2 L767.4 680.3 L776 678.3 L784.6 680.9 L793.2 678.4 L801.8 678.3 L810.4 680.4 L819 679.7 L827.6 678.6 L836.2 678.4 L844.8 678.3 L853.4 678.6 L862 680.9 L870.6 678.9 L879.2 678.6 L887.8 680.6 L896.4 678.3 L905 678.6 L913.6 680.3 L922.2 678.9 L930.8 678.3 L939.4 678.7 L948 679.1 L956.6 680.9 L965.2 679.7 L973.8 678.5 L982.4 680.7 L991 678.7 L999.6 680.2 L1008.2 678.6 L1016.8 680.6 L1025.4 679.3 L1034 678.1 L1042.6 678.7 L1051.2 678.8 L1059.8 679.8 L1068.4 678.5 L1077 678.2 L1085.6 679.7 L1094.2 679.8 L1102.8 680.8 L1111.4 678 L1120 679.3 L1128.6 678.5 L1137.2 679.7 L1145.8 679.1 L1154.4 680.9 L1163 680.1 L1171.6 678.4 L1180.2 678.1 L1188.8 680.1 L1197.4 678.1 L1206 679.4 L1214.6 679 L1223.2 678.2 L1231.8 680.2 L1240.4 680.2 L1249 680.4 L1257.6 679.1 L1266.2 680.7 L1274.8 679.3 L1283.4 680.6 L1292 679.9 L1300.6 679.7 L1309.2 678.2 L1317.8 681 L1326.4 680.2 L1335 680.2 L1343.6 679.3 L1352.2 678.3 L1360.8 678.1 L1369.4 679.4 L1378 680.1 L1386.6 679.8 L1395.2 675.3 L1403.8 678.9 L1412.4 678.6 L1421 680.7 L1429.6 679.3 L1438.2 679 L1446.8 678.6 L1455.4 680.4 L1464 680.6 L1472.6 679.7 L1481.2 678.4 L1489.8 680.5 L1498.4 680.1 L1507 678.8 L1515.6 679.4 L1524.2 678.6 L1532.8 679.9 L1541.4 678.9 L1550 680.9 L1558.6 678.2 L1567.2 680.6 L1575.8 680.1 L1584.4 678.9 L1593 678.1 L1601.6 675.9 L1610.2 680.5 L1618.8 678.4 L1627.4 679.9 L1636 679.9 L1644.6 680.4 L1653.2 680.1 L1661.8 679.4 L1670.4 678 L1679 680.1 L1687.6 678.8 L1696.2 680.1 L1704.8 679.8 L1713.4 679.2 L1722 680.7 L1730.6 680.8 L1739.2 678.4 L1747.8 679.9 L1756.4 679.1 L1765 680.6 L1773.6 680.8 L1782.2 680 L1790.8 680.2 L1799.4 679.9 L1808 678.6 L1816.6 680.9 L1825.2 679.6 L1833.8 679 L1842.4 680.6 L1851 678.2 L1859.6 679.7 L1868.2 676 L1876.8 680.4 L1885.4 680.4 L1894 679 L1902.6 678.4 L1911.2 679.5 L1919.8 680.5 L1928.4 680.8 L1937 680.8 L1945.6 678.7" fill="none" stroke="#8dbbe8" stroke-width="1"/><path d="M518 679.4h0M526.6 680.8h0M535.2 679.5h0M543.8 678.6h0M552.4 679.9h0M561 678.3h0M569.6 678.3h0M578.2 680.1h0M586.8 680.9h0M595.4 680h0M604 675h0M612.6 679.6h0M621.2 678.6h0M629.8 678.1h0M638.4 679.3h0M647 679.6h0M655.6 679.5h0M664.2 679.4h0M672.8 681h0M681.4 680.5h0M690 678.9h0M698.6 678.9h0M707.2 680.3h0M715.8 680.5h0M724.4 680.9h0M733 678h0M741.6 680.7h0M750.2 680.9h0M758.8 678.2h0M767.4 680.3h0M776 678.3h0M784.6 680.9h0M793.2 678.4h0M801.8 678.3h0M810.4 680.4h0M819 679.7h0M827.6 678.6h0M836.2 678.4h0M844.8 678.3h0M853.4 678.6h0M862 680.9h0M870.6 678.9h0M879.2 678.6h0M887.8 680.6h0M896.4 678.3h0M905 678.6h0M913.6 680.3h0M922.2 678.9h0M930.8 678.3h0M939.4 678.7h0M948 679.1h0M956.6 680.9h0M965.2 679.7h0M973.8 678.5h0M982.4 680.7h0M991 678.7h0M999.6 680.2h0M1008.2 678.6h0M1016.8 680.6h0M1025.4 679.3h0M1034 678.1h0M1042.6 678.7h0M1051.2 678.8h0M1059.8 679.8h0M1068.4 678.5h0M1077 678.2h0M1085.6 679.7h0M1094.2 679.8h0M1102.8 680.8h0M1111.4 678h0M1120 679.3h0M1128.6 678.5h0M1137.2 679.7h0M1145.8 679.1h0M1154.4 680.9h0M1163 680.1h0M1171.6 678.4h0M1180.2 678.1h0M1188.8 680.1h0M1197.4 678.1h0M1206 679.4h0M1214.6 679h0M1223.2 678.2h0M1231.8 680.2h0M1240.4 680.2h0M1249 680.4h0M1257.6 679.1h0M1266.2 680.7h0M1274.8 679.3h0M1283.4 680.6h0M1292 679.9h0M1300.6 679.7h0M1309.2 678.2h0M1317.8 681h0M1326.4 680.2h0M1335 680.2h0M1343.6 679.3h0M1352.2 678.3h0M1360.8 678.1h0M1369.4 679.4h0M1378 680.1h0M1386.6 679.8h0M1395.2 675.3h0M1403.8 678.9h0M1412.4 678.6h0M1421 680.7h0M1429.6 679.3h0M1438.2 679h0M1446.8 678.6h0M1455.4 680.4h0M1464 680.6h0M1472.6 679.7h0M1481.2 678.4h0M1489.8 680.5h0M1498.4 680.1h0M1507 678.8h0M1515.6 679.4h0M1524.2 678.6h0M1532.8 679.9h0M1541.4 678.9h0M1550 680.9h0M1558.6 678.2h0M1567.2 680.6h0M1575.8 680.1h0M1584.4 678.9h0M1593 678.1h0M1601.6 675.9h0M1610.2 680.5h0M1618.8 678.4h0M1627.4 679.9h0M1636 679.9h0M1644.6 680.4h0M1653.2 680.1h0M1661.8 679.4h0M1670.4 678h0M1679 680.1h0M1687.6 678.8h0M1696.2 680.1h0M1704.8 679.8h0M1713.4 679.2h0M1722 680.7h0M1730.6 680.8h0M1739.2 678.4h0M1747.8 679.9h0M1756.4 679.1h0M1765 680.6h0M1773.6 680.8h0M1782.2 680h0M1790.8 680.2h0M1799.4 679.9h0M1808 678.6h0M1816.6 680.9h0M1825.2 679.6h0M1833.8 679h0M1842.4 680.6h0M1851 678.2h0M1859.6 679.7h0M1868.2 676h0M1876.8 680.4h0M1885.4 680.4h0M1894 679h0M1902.6 678.4h0M1911.2 679.5h0M1919.8 680.5h0M1928.4 680.8h0M1937 680.8h0M1945.6 678.7h0" stroke="#82b4e4" stroke-width="4.2" stroke-linecap="round"/><rect x="518" y="702" width="1430" height="6.3" fill="#a9a0a6"/><path d="M518 702.3H1948" stroke="#e8c6c6" stroke-width="0.8"/><path d="M523.3 705.2h4.3M609.3 705.2h4.3M652.3 705.2h4.3M686.7 705.2h4.3M755.5 705.2h4.3M798.5 705.2h4.3M815.7 705.2h4.3M867.3 705.2h4.3M893.1 705.2h4.3M910.3 705.2h4.3M918.9 705.2h4.3M927.5 705.2h4.3M970.5 705.2h4.3M987.7 705.2h4.3M1004.9 705.2h4.3M1013.5 705.2h4.3M1065.1 705.2h4.3M1073.7 705.2h4.3M1133.9 705.2h4.3M1194.1 705.2h4.3M1219.9 705.2h4.3M1228.5 705.2h4.3M1245.7 705.2h4.3M1254.3 705.2h4.3M1288.7 705.2h4.3M1314.5 705.2h4.3M1323.1 705.2h4.3M1357.5 705.2h4.3M1400.5 705.2h4.3M1409.1 705.2h4.3M1417.7 705.2h4.3M1426.3 705.2h4.3M1460.7 705.2h4.3M1469.3 705.2h4.3M1477.9 705.2h4.3M1512.3 705.2h4.3M1520.9 705.2h4.3M1598.3 705.2h4.3M1624.1 705.2h4.3M1658.5 705.2h4.3M1667.1 705.2h4.3M1684.3 705.2h4.3M1778.9 705.2h4.3M1890.7 705.2h4.3M1916.5 705.2h4.3" stroke="#e2967a" stroke-width="5.6"/><path d="M519.0 705.2h4.3M527.6 705.2h4.3M536.2 705.2h4.3M544.8 705.2h4.3M553.4 705.2h4.3M562.0 705.2h4.3M570.6 705.2h4.3M579.2 705.2h4.3M587.8 705.2h4.3M596.4 705.2h4.3M605.0 705.2h4.3M613.6 705.2h4.3M622.2 705.2h4.3M630.8 705.2h4.3M639.4 705.2h4.3M648.0 705.2h4.3M656.6 705.2h4.3M665.2 705.2h4.3M673.8 705.2h4.3M682.4 705.2h4.3M691.0 705.2h4.3M699.6 705.2h4.3M708.2 705.2h4.3M716.8 705.2h4.3M725.4 705.2h4.3M734.0 705.2h4.3M742.6 705.2h4.3M751.2 705.2h4.3M759.8 705.2h4.3M768.4 705.2h4.3M777.0 705.2h4.3M785.6 705.2h4.3M794.2 705.2h4.3M802.8 705.2h4.3M811.4 705.2h4.3M820.0 705.2h4.3M828.6 705.2h4.3M837.2 705.2h4.3M845.8 705.2h4.3M854.4 705.2h4.3M863.0 705.2h4.3M871.6 705.2h4.3M880.2 705.2h4.3M888.8 705.2h4.3M897.4 705.2h4.3M906.0 705.2h4.3M914.6 705.2h4.3M923.2 705.2h4.3M931.8 705.2h4.3M940.4 705.2h4.3M949.0 705.2h4.3M957.6 705.2h4.3M966.2 705.2h4.3M974.8 705.2h4.3M983.4 705.2h4.3M992.0 705.2h4.3M1000.6 705.2h4.3M1009.2 705.2h4.3M1017.8 705.2h4.3M1026.4 705.2h4.3M1035.0 705.2h4.3M1043.6 705.2h4.3M1052.2 705.2h4.3M1060.8 705.2h4.3M1069.4 705.2h4.3M1078.0 705.2h4.3M1086.6 705.2h4.3M1095.2 705.2h4.3M1103.8 705.2h4.3M1112.4 705.2h4.3M1121.0 705.2h4.3M1129.6 705.2h4.3M1138.2 705.2h4.3M1146.8 705.2h4.3M1155.4 705.2h4.3M1164.0 705.2h4.3M1172.6 705.2h4.3M1181.2 705.2h4.3M1189.8 705.2h4.3M1198.4 705.2h4.3M1207.0 705.2h4.3M1215.6 705.2h4.3M1224.2 705.2h4.3M1232.8 705.2h4.3M1241.4 705.2h4.3M1250.0 705.2h4.3M1258.6 705.2h4.3M1267.2 705.2h4.3M1275.8 705.2h4.3M1284.4 705.2h4.3M1293.0 705.2h4.3M1301.6 705.2h4.3M1310.2 705.2h4.3M1318.8 705.2h4.3M1327.4 705.2h4.3M1336.0 705.2h4.3M1344.6 705.2h4.3M1353.2 705.2h4.3M1361.8 705.2h4.3M1370.4 705.2h4.3M1379.0 705.2h4.3M1387.6 705.2h4.3M1396.2 705.2h4.3M1404.8 705.2h4.3M1413.4 705.2h4.3M1422.0 705.2h4.3M1430.6 705.2h4.3M1439.2 705.2h4.3M1447.8 705.2h4.3M1456.4 705.2h4.3M1465.0 705.2h4.3M1473.6 705.2h4.3M1482.2 705.2h4.3M1490.8 705.2h4.3M1499.4 705.2h4.3M1508.0 705.2h4.3M1516.6 705.2h4.3M1525.2 705.2h4.3M1533.8 705.2h4.3M1542.4 705.2h4.3M1551.0 705.2h4.3M1559.6 705.2h4.3M1568.2 705.2h4.3M1576.8 705.2h4.3M1585.4 705.2h4.3M1594.0 705.2h4.3M1602.6 705.2h4.3M1611.2 705.2h4.3M1619.8 705.2h4.3M1628.4 705.2h4.3M1637.0 705.2h4.3M1645.6 705.2h4.3M1654.2 705.2h4.3M1662.8 705.2h4.3M1671.4 705.2h4.3M1680.0 705.2h4.3M1688.6 705.2h4.3M1697.2 705.2h4.3M1705.8 705.2h4.3M1714.4 705.2h4.3M1723.0 705.2h4.3M1731.6 705.2h4.3M1740.2 705.2h4.3M1748.8 705.2h4.3M1757.4 705.2h4.3M1766.0 705.2h4.3M1774.6 705.2h4.3M1783.2 705.2h4.3M1791.8 705.2h4.3M1800.4 705.2h4.3M1809.0 705.2h4.3M1817.6 705.2h4.3M1826.2 705.2h4.3M1834.8 705.2h4.3M1843.4 705.2h4.3M1852.0 705.2h4.3M1860.6 705.2h4.3M1869.2 705.2h4.3M1877.8 705.2h4.3M1886.4 705.2h4.3M1895.0 705.2h4.3M1903.6 705.2h4.3M1912.2 705.2h4.3M1920.8 705.2h4.3M1929.4 705.2h4.3M1938.0 705.2h4.3" stroke="#319488" stroke-width="5.6"/><path d="M518 699.3 L522.2 699.8 L526.4 699.8 L530.6 699.6 L534.8 700.2 L539 699.8 L543.2 700.2 L547.4 699.1 L551.6 699.5 L555.8 699.9 L560 699 L564.2 699.3 L568.4 699.6 L572.6 699.6 L576.8 699.1 L581 699.8 L585.2 699.8 L589.4 699.5 L593.6 699.5 L597.8 700 L602 699.7 L606.2 699.6 L610.4 699.5 L614.6 699.6 L618.8 699.3 L623 699.8 L627.2 699 L631.4 699.7 L635.6 699.5 L639.8 699.1 L644 699.5 L648.2 699.9 L652.4 700 L656.6 699.9 L660.8 699.9 L665 700 L669.2 699.2 L673.4 699.3 L677.6 699.1 L681.8 699.1 L686 699.4 L690.2 699.4 L694.4 699.5 L698.6 699.8 L702.8 699.4 L707 700 L711.2 699.3 L715.4 699.6 L719.6 699.4 L723.8 700 L728 699.7 L732.2 699.8 L736.4 699.3 L740.6 700.1 L744.8 699.8 L749 699.8 L753.2 699 L757.4 699 L761.6 699.3 L765.8 700.1 L770 699.3 L774.2 699.6 L778.4 699.4 L782.6 699.2 L786.8 700 L791 700 L795.2 699.9 L799.4 699.9 L803.6 699.2 L807.8 700 L812 699.3 L816.2 700 L820.4 699.8 L824.6 699.6 L828.8 699.7 L833 699.7 L837.2 699.6 L841.4 699 L845.6 700.1 L849.8 699.8 L854 699.9 L858.2 700.1 L862.4 699.8 L866.6 700.1 L870.8 699.5 L875 700.1 L879.2 699.3 L883.4 700.2 L887.6 699.3 L891.8 699.9 L896 699.1 L900.2 699 L904.4 699.7 L908.6 699.9 L912.8 699.5 L917 699.7 L921.2 699.1 L925.4 700 L929.6 699.3 L933.8 699.4 L938 700 L942.2 699.7 L946.4 699.1 L950.6 699.9 L954.8 699.1 L959 699.2 L963.2 699.8 L967.4 699.3 L971.6 699.6 L975.8 699.5 L980 700.2 L984.2 699.6 L988.4 699.9 L992.6 700.1 L996.8 700 L1001 700 L1005.2 700 L1009.4 700.1 L1013.6 699.6 L1017.8 700 L1022 699.5 L1026.2 699.9 L1030.4 699.5 L1034.6 699.2 L1038.8 699.4 L1043 699.1 L1047.2 699.1 L1051.4 699.9 L1055.6 699.1 L1059.8 699.7 L1064 699 L1068.2 699.2 L1072.4 699.3 L1076.6 699.7 L1080.8 699.2 L1085 699.2 L1089.2 699.4 L1093.4 700 L1097.6 699.3 L1101.8 700.1 L1106 699.7 L1110.2 699.6 L1114.4 699.1 L1118.6 700 L1122.8 699.6 L1127 699.3 L1131.2 699.8 L1135.4 699 L1139.6 699.4 L1143.8 699.9 L1148 699.2 L1152.2 699.4 L1156.4 700 L1160.6 699.8 L1164.8 699.3 L1169 699.2 L1173.2 699 L1177.4 700 L1181.6 699.1 L1185.8 699.9 L1190 699.6 L1194.2 700.1 L1198.4 700 L1202.6 699.9 L1206.8 700.1 L1211 700 L1215.2 699.7 L1219.4 699.2 L1223.6 699.4 L1227.8 699.1 L1232 699.6 L1236.2 699.4 L1240.4 699.1 L1244.6 699.6 L1248.8 700 L1253 699 L1257.2 699.9 L1261.4 699.7 L1265.6 699 L1269.8 700 L1274 699.7 L1278.2 699.5 L1282.4 699.4 L1286.6 699.5 L1290.8 699.3 L1295 699.9 L1299.2 700.1 L1303.4 699.9 L1307.6 700 L1311.8 699.2 L1316 699.8 L1320.2 699.2 L1324.4 700 L1328.6 699.1 L1332.8 699.2 L1337 699.5 L1341.2 700.1 L1345.4 699.6 L1349.6 699.9 L1353.8 699.5 L1358 699.5 L1362.2 699.7 L1366.4 699.9 L1370.6 700.2 L1374.8 699.3 L1379 699.4 L1383.2 699.7 L1387.4 699.4 L1391.6 699.1 L1395.8 699.3 L1400 699.4 L1404.2 699.7 L1408.4 699.7 L1412.6 700.1 L1416.8 699.8 L1421 699.7 L1425.2 699.2 L1429.4 699.3 L1433.6 699.8 L1437.8 700.1 L1442 699.6 L1446.2 700.2 L1450.4 700.1 L1454.6 699.7 L1458.8 699.3 L1463 700.2 L1467.2 699.7 L1471.4 700 L1475.6 700.1 L1479.8 699.7 L1484 699.2 L1488.2 699.1 L1492.4 699.9 L1496.6 700.2 L1500.8 699.9 L1505 700.1 L1509.2 699.8 L1513.4 699.2 L1517.6 699 L1521.8 699.1 L1526 699.4 L1530.2 699.3 L1534.4 699.1 L1538.6 699.9 L1542.8 699.5 L1547 699.1 L1551.2 700.1 L1555.4 699.7 L1559.6 699.3 L1563.8 699.6 L1568 699.8 L1572.2 699.1 L1576.4 700.1 L1580.6 699.6 L1584.8 699 L1589 699.4 L1593.2 699.5 L1597.4 699.4 L1601.6 700.1 L1605.8 699.3 L1610 699.3 L1614.2 700.2 L1618.4 699.1 L1622.6 699.7 L1626.8 700.1 L1631 700.2 L1635.2 700 L1639.4 699.7 L1643.6 699.2 L1647.8 699.5 L1652 699.1 L1656.2 699.2 L1660.4 699.7 L1664.6 699.4 L1668.8 699 L1673 699.5 L1677.2 699.6 L1681.4 699.8 L1685.6 699.4 L1689.8 699.4 L1694 699.2 L1698.2 699.9 L1702.4 699.2 L1706.6 699.8 L1710.8 700 L1715 699 L1719.2 699.8 L1723.4 699.6 L1727.6 700.1 L1731.8 699.8 L1736 700 L1740.2 699.3 L1744.4 700.1 L1748.6 700.1 L1752.8 699.5 L1757 700 L1761.2 699.8 L1765.4 699.9 L1769.6 699.4 L1773.8 700 L1778 699.1 L1782.2 700.2 L1786.4 699.2 L1790.6 699.2 L1794.8 699.6 L1799 700.1 L1803.2 700.1 L1807.4 699.3 L1811.6 700 L1815.8 699.3 L1820 699.3 L1824.2 699.7 L1828.4 700.1 L1832.6 699 L1836.8 699.9 L1841 700.1 L1845.2 699.2 L1849.4 699.8 L1853.6 699.8 L1857.8 699.6 L1862 700 L1866.2 699.6 L1870.4 699.2 L1874.6 699.2 L1878.8 699.3 L1883 699.9 L1887.2 699.9 L1891.4 699.6 L1895.6 699.7 L1899.8 699 L1904 699.9 L1908.2 700 L1912.4 699.2 L1916.6 700 L1920.8 699.9 L1925 699 L1929.2 699.2 L1933.4 699.7 L1937.6 699.7 L1941.8 699.5 L1946 700" fill="none" stroke="#434348" stroke-width="2.4"/><path d="M518 699.3h0M522.2 699.8h0M526.4 699.8h0M530.6 699.6h0M534.8 700.2h0M539 699.8h0M543.2 700.2h0M547.4 699.1h0M551.6 699.5h0M555.8 699.9h0M560 699h0M564.2 699.3h0M568.4 699.6h0M572.6 699.6h0M576.8 699.1h0M581 699.8h0M585.2 699.8h0M589.4 699.5h0M593.6 699.5h0M597.8 700h0M602 699.7h0M606.2 699.6h0M610.4 699.5h0M614.6 699.6h0M618.8 699.3h0M623 699.8h0M627.2 699h0M631.4 699.7h0M635.6 699.5h0M639.8 699.1h0M644 699.5h0M648.2 699.9h0M652.4 700h0M656.6 699.9h0M660.8 699.9h0M665 700h0M669.2 699.2h0M673.4 699.3h0M677.6 699.1h0M681.8 699.1h0M686 699.4h0M690.2 699.4h0M694.4 699.5h0M698.6 699.8h0M702.8 699.4h0M707 700h0M711.2 699.3h0M715.4 699.6h0M719.6 699.4h0M723.8 700h0M728 699.7h0M732.2 699.8h0M736.4 699.3h0M740.6 700.1h0M744.8 699.8h0M749 699.8h0M753.2 699h0M757.4 699h0M761.6 699.3h0M765.8 700.1h0M770 699.3h0M774.2 699.6h0M778.4 699.4h0M782.6 699.2h0M786.8 700h0M791 700h0M795.2 699.9h0M799.4 699.9h0M803.6 699.2h0M807.8 700h0M812 699.3h0M816.2 700h0M820.4 699.8h0M824.6 699.6h0M828.8 699.7h0M833 699.7h0M837.2 699.6h0M841.4 699h0M845.6 700.1h0M849.8 699.8h0M854 699.9h0M858.2 700.1h0M862.4 699.8h0M866.6 700.1h0M870.8 699.5h0M875 700.1h0M879.2 699.3h0M883.4 700.2h0M887.6 699.3h0M891.8 699.9h0M896 699.1h0M900.2 699h0M904.4 699.7h0M908.6 699.9h0M912.8 699.5h0M917 699.7h0M921.2 699.1h0M925.4 700h0M929.6 699.3h0M933.8 699.4h0M938 700h0M942.2 699.7h0M946.4 699.1h0M950.6 699.9h0M954.8 699.1h0M959 699.2h0M963.2 699.8h0M967.4 699.3h0M971.6 699.6h0M975.8 699.5h0M980 700.2h0M984.2 699.6h0M988.4 699.9h0M992.6 700.1h0M996.8 700h0M1001 700h0M1005.2 700h0M1009.4 700.1h0M1013.6 699.6h0M1017.8 700h0M1022 699.5h0M1026.2 699.9h0M1030.4 699.5h0M1034.6 699.2h0M1038.8 699.4h0M1043 699.1h0M1047.2 699.1h0M1051.4 699.9h0M1055.6 699.1h0M1059.8 699.7h0M1064 699h0M1068.2 699.2h0M1072.4 699.3h0M1076.6 699.7h0M1080.8 699.2h0M1085 699.2h0M1089.2 699.4h0M1093.4 700h0M1097.6 699.3h0M1101.8 700.1h0M1106 699.7h0M1110.2 699.6h0M1114.4 699.1h0M1118.6 700h0M1122.8 699.6h0M1127 699.3h0M1131.2 699.8h0M1135.4 699h0M1139.6 699.4h0M1143.8 699.9h0M1148 699.2h0M1152.2 699.4h0M1156.4 700h0M1160.6 699.8h0M1164.8 699.3h0M1169 699.2h0M1173.2 699h0M1177.4 700h0M1181.6 699.1h0M1185.8 699.9h0M1190 699.6h0M1194.2 700.1h0M1198.4 700h0M1202.6 699.9h0M1206.8 700.1h0M1211 700h0M1215.2 699.7h0M1219.4 699.2h0M1223.6 699.4h0M1227.8 699.1h0M1232 699.6h0M1236.2 699.4h0M1240.4 699.1h0M1244.6 699.6h0M1248.8 700h0M1253 699h0M1257.2 699.9h0M1261.4 699.7h0M1265.6 699h0M1269.8 700h0M1274 699.7h0M1278.2 699.5h0M1282.4 699.4h0M1286.6 699.5h0M1290.8 699.3h0M1295 699.9h0M1299.2 700.1h0M1303.4 699.9h0M1307.6 700h0M1311.8 699.2h0M1316 699.8h0M1320.2 699.2h0M1324.4 700h0M1328.6 699.1h0M1332.8 699.2h0M1337 699.5h0M1341.2 700.1h0M1345.4 699.6h0M1349.6 699.9h0M1353.8 699.5h0M1358 699.5h0M1362.2 699.7h0M1366.4 699.9h0M1370.6 700.2h0M1374.8 699.3h0M1379 699.4h0M1383.2 699.7h0M1387.4 699.4h0M1391.6 699.1h0M1395.8 699.3h0M1400 699.4h0M1404.2 699.7h0M1408.4 699.7h0M1412.6 700.1h0M1416.8 699.8h0M1421 699.7h0M1425.2 699.2h0M1429.4 699.3h0M1433.6 699.8h0M1437.8 700.1h0M1442 699.6h0M1446.2 700.2h0M1450.4 700.1h0M1454.6 699.7h0M1458.8 699.3h0M1463 700.2h0M1467.2 699.7h0M1471.4 700h0M1475.6 700.1h0M1479.8 699.7h0M1484 699.2h0M1488.2 699.1h0M1492.4 699.9h0M1496.6 700.2h0M1500.8 699.9h0M1505 700.1h0M1509.2 699.8h0M1513.4 699.2h0M1517.6 699h0M1521.8 699.1h0M1526 699.4h0M1530.2 699.3h0M1534.4 699.1h0M1538.6 699.9h0M1542.8 699.5h0M1547 699.1h0M1551.2 700.1h0M1555.4 699.7h0M1559.6 699.3h0M1563.8 699.6h0M1568 699.8h0M1572.2 699.1h0M1576.4 700.1h0M1580.6 699.6h0M1584.8 699h0M1589 699.4h0M1593.2 699.5h0M1597.4 699.4h0M1601.6 700.1h0M1605.8 699.3h0M1610 699.3h0M1614.2 700.2h0M1618.4 699.1h0M1622.6 699.7h0M1626.8 700.1h0M1631 700.2h0M1635.2 700h0M1639.4 699.7h0M1643.6 699.2h0M1647.8 699.5h0M1652 699.1h0M1656.2 699.2h0M1660.4 699.7h0M1664.6 699.4h0M1668.8 699h0M1673 699.5h0M1677.2 699.6h0M1681.4 699.8h0M1685.6 699.4h0M1689.8 699.4h0M1694 699.2h0M1698.2 699.9h0M1702.4 699.2h0M1706.6 699.8h0M1710.8 700h0M1715 699h0M1719.2 699.8h0M1723.4 699.6h0M1727.6 700.1h0M1731.8 699.8h0M1736 700h0M1740.2 699.3h0M1744.4 700.1h0M1748.6 700.1h0M1752.8 699.5h0M1757 700h0M1761.2 699.8h0M1765.4 699.9h0M1769.6 699.4h0M1773.8 700h0M1778 699.1h0M1782.2 700.2h0M1786.4 699.2h0M1790.6 699.2h0M1794.8 699.6h0M1799 700.1h0M1803.2 700.1h0M1807.4 699.3h0M1811.6 700h0M1815.8 699.3h0M1820 699.3h0M1824.2 699.7h0M1828.4 700.1h0M1832.6 699h0M1836.8 699.9h0M1841 700.1h0M1845.2 699.2h0M1849.4 699.8h0M1853.6 699.8h0M1857.8 699.6h0M1862 700h0M1866.2 699.6h0M1870.4 699.2h0M1874.6 699.2h0M1878.8 699.3h0M1883 699.9h0M1887.2 699.9h0M1891.4 699.6h0M1895.6 699.7h0M1899.8 699h0M1904 699.9h0M1908.2 700h0M1912.4 699.2h0M1916.6 700h0M1920.8 699.9h0M1925 699h0M1929.2 699.2h0M1933.4 699.7h0M1937.6 699.7h0M1941.8 699.5h0M1946 700h0" stroke="#3e3e44" stroke-width="4.8" stroke-linecap="round"/><path d="M520.1 698.4h0M524.3 698.9h0M528.5 698.6h0M532.7 698.6h0M536.9 699h0M541.1 698.5h0M545.3 698.7h0M549.5 697.9h0M553.7 698.5h0M557.9 698.8h0M562.1 697.8h0M566.3 697.9h0M570.5 698.4h0M574.7 698.7h0M578.9 698.2h0M583.1 699.1h0M587.3 698.2h0M591.5 698.6h0M595.7 698.4h0M599.9 698.4h0M604.1 698.8h0M608.3 698.4h0M612.5 698.9h0M616.7 697.8h0M620.9 698h0M625.1 698.6h0M629.3 697.3h0M633.5 698.6h0M637.7 698.3h0M641.9 698.4h0M646.1 698.8h0M650.3 698.9h0M654.5 699h0M658.7 699.2h0M662.9 698.8h0M667.1 698.5h0M671.3 697.5h0M675.5 698.5h0M679.7 697.8h0M683.9 697.4h0M688.1 697.9h0M692.3 698h0M696.5 698.8h0M700.7 699.1h0M704.9 697.9h0M709.1 698.4h0M713.3 698.3h0M717.5 699h0M721.7 698.5h0M725.9 698.9h0M730.1 699h0M734.3 699.1h0M738.5 698.6h0M742.7 698.6h0M746.9 699h0M751.1 699.1h0M755.3 697.5h0M759.5 697.7h0M763.7 697.6h0M767.9 698.8h0M772.1 697.8h0M776.3 698.7h0M780.5 698.6h0M784.7 697.9h0M788.9 698.6h0M793.1 698.9h0M797.3 699h0M801.5 698.7h0M805.7 698h0M809.9 699h0M814.1 697.8h0M818.3 698.8h0M822.5 698.6h0M826.7 698.3h0M830.9 697.9h0M835.1 698.2h0M839.3 698.9h0M843.5 698h0M847.7 698.9h0M851.9 698.9h0M856.1 698.7h0M860.3 698.9h0M864.5 698.8h0M868.7 698.5h0M872.9 697.9h0M877.1 698.4h0M881.3 698.4h0M885.5 699.3h0M889.7 697.6h0M893.9 698.4h0M898.1 698.3h0M902.3 697.4h0M906.5 699.1h0M910.7 699.1h0M914.9 698.2h0M919.1 698.9h0M923.3 697.8h0M927.5 698.5h0M931.7 698.5h0M935.9 698.4h0M940.1 698.5h0M944.3 698.6h0M948.5 697.9h0M952.7 698.3h0M956.9 697.9h0M961.1 697.5h0M965.3 698.2h0M969.5 698h0M973.7 698.4h0M977.9 698.5h0M982.1 699h0M986.3 698.5h0M990.5 698.4h0M994.7 698.8h0M998.9 698.6h0M1003.1 699.3h0M1007.3 699.2h0M1011.5 699h0M1015.7 698.4h0M1019.9 698.3h0M1024.1 698.3h0M1028.3 698.5h0M1032.5 697.8h0M1036.7 697.9h0M1040.9 698.3h0M1045.1 697.4h0M1049.3 698.4h0M1053.5 699h0M1057.7 697.9h0M1061.9 697.9h0M1066.1 698.2h0M1070.3 698.3h0M1074.5 698.3h0M1078.7 698h0M1082.9 698.4h0M1087.1 698.1h0M1091.3 698h0M1095.5 698.3h0M1099.7 698.4h0M1103.9 698.7h0M1108.1 698.8h0M1112.3 698.1h0M1116.5 698.2h0M1120.7 698.3h0M1124.9 698.4h0M1129.1 698.1h0M1133.3 699.1h0M1137.5 697.6h0M1141.7 698.5h0M1145.9 698.3h0M1150.1 698.5h0M1154.3 697.8h0M1158.5 699.2h0M1162.7 698.4h0M1166.9 698.4h0M1171.1 698h0M1175.3 698.1h0M1179.5 699.3h0M1183.7 698.3h0M1187.9 698.6h0M1192.1 698.1h0M1196.3 699.4h0M1200.5 698.6h0M1204.7 699.2h0M1208.9 699.4h0M1213.1 698.3h0M1217.3 698.9h0M1221.5 698.5h0M1225.7 697.9h0M1229.9 697.7h0M1234.1 698.8h0M1238.3 698h0M1242.5 698.2h0M1246.7 698.8h0M1250.9 698.3h0M1255.1 697.3h0M1259.3 698.4h0M1263.5 698.3h0M1267.7 697.6h0M1271.9 699.1h0M1276.1 699h0M1280.3 698.4h0M1284.5 698h0M1288.7 698.1h0M1292.9 698.6h0M1297.1 698.1h0M1301.3 699.2h0M1305.5 698.3h0M1309.7 698.3h0M1313.9 697.4h0M1318.1 698.7h0M1322.3 698.2h0M1326.5 698.3h0M1330.7 697.4h0M1334.9 697.9h0M1339.1 698.2h0M1343.3 699.5h0M1347.5 698.3h0M1351.7 699.1h0M1355.9 698.5h0M1360.1 698h0M1364.3 698.5h0M1368.5 698.7h0M1372.7 698.4h0M1376.9 698.2h0M1381.1 697.9h0M1385.3 698.2h0M1389.5 697.9h0M1393.7 697.9h0M1397.9 698.6h0M1402.1 698.7h0M1406.3 697.9h0M1410.5 698.5h0M1414.7 699.3h0M1418.9 699h0M1423.1 698h0M1427.3 698.4h0M1431.5 698.6h0M1435.7 698.9h0M1439.9 699.3h0M1444.1 698.1h0M1448.3 698.5h0M1452.5 698.3h0M1456.7 698.8h0M1460.9 697.8h0M1465.1 698.9h0M1469.3 698.1h0M1473.5 698.4h0M1477.7 698.5h0M1481.9 698.3h0M1486.1 698.2h0M1490.3 698.3h0M1494.5 698.5h0M1498.7 698.9h0M1502.9 698.5h0M1507.1 699.1h0M1511.3 698.6h0M1515.5 698.2h0M1519.7 697.7h0M1523.9 698.2h0M1528.1 698.7h0M1532.3 698.4h0M1536.5 698.3h0M1540.7 699.3h0M1544.9 698.7h0M1549.1 698.4h0M1553.3 698.6h0M1557.5 698.9h0M1561.7 698.2h0M1565.9 698.6h0M1570.1 698.1h0M1574.3 698.1h0M1578.5 698.8h0M1582.7 698.4h0M1586.9 697.6h0M1591.1 698h0M1595.3 698.6h0M1599.5 698.4h0M1603.7 698.6h0M1607.9 698.3h0M1612.1 697.9h0M1616.3 699.2h0M1620.5 697.5h0M1624.7 698.9h0M1628.9 698.6h0M1633.1 699.1h0M1637.3 698.4h0M1641.5 699h0M1645.7 698.2h0M1649.9 697.9h0M1654.1 698.2h0M1658.3 697.7h0M1662.5 698.1h0M1666.7 697.8h0M1670.9 698h0M1675.1 698.1h0M1679.3 698.6h0M1683.5 699.2h0M1687.7 698.1h0M1691.9 698.4h0M1696.1 698.3h0M1700.3 699.2h0M1704.5 697.8h0M1708.7 698.4h0M1712.9 698.5h0M1717.1 698h0M1721.3 698.5h0M1725.5 698.7h0M1729.7 698.5h0M1733.9 698.2h0M1738.1 699.4h0M1742.3 698.6h0M1746.5 698.5h0M1750.7 698.8h0M1754.9 698.3h0M1759.1 699.2h0M1763.3 698.5h0M1767.5 699.1h0M1771.7 698.6h0M1775.9 699.2h0M1780.1 697.5h0M1784.3 698.5h0M1788.5 697.9h0M1792.7 698.4h0M1796.9 698.5h0M1801.1 698.6h0M1805.3 699.2h0M1809.5 698h0M1813.7 698.3h0M1817.9 698.2h0M1822.1 698.3h0M1826.3 698.1h0M1830.5 698.6h0M1834.7 698.3h0M1838.9 698.6h0M1843.1 699.3h0M1847.3 698.1h0M1851.5 699h0M1855.7 699h0M1859.9 698.3h0M1864.1 698.4h0M1868.3 698.9h0M1872.5 697.7h0M1876.7 698.1h0M1880.9 697.8h0M1885.1 698.6h0M1889.3 698.5h0M1893.5 697.9h0M1897.7 698.1h0M1901.9 697.9h0M1906.1 698.7h0M1910.3 698.4h0M1914.5 697.4h0M1918.7 699.1h0M1922.9 698.9h0M1927.1 697.2h0M1931.3 697.8h0M1935.5 698.1h0M1939.7 698.9h0M1943.9 698.9h0" stroke="#3e3e44" stroke-width="3.4" stroke-linecap="round"/><path d="M547.4 699.5V695.3M551.6 699.5V694.8M555.8 699.5V694.6M560.0 699.5V695.1M564.2 699.5V695.1M568.4 699.5V695.2M572.6 699.5V693.7M660.8 699.5V697.2M757.4 699.5V696.0M929.6 699.5V696.4M938.0 699.5V696.7M942.2 699.5V693.9M946.4 699.5V695.8M950.6 699.5V693.7M954.8 699.5V693.9M959.0 699.5V693.6M963.2 699.5V695.9M967.4 699.5V693.6M971.6 699.5V693.9M1362.2 699.5V695.6M1366.4 699.5V696.1M1370.6 699.5V695.3M1374.8 699.5V695.7M1379.0 699.5V694.8M1383.2 699.5V696.0M1425.2 699.5V695.9M1429.4 699.5V694.3M1433.6 699.5V695.7M1437.8 699.5V695.9M1442.0 699.5V696.1M1446.2 699.5V696.7M1450.4 699.5V695.2M1454.6 699.5V694.7M1492.4 699.5V693.7M1496.6 699.5V696.7M1500.8 699.5V693.9M1505.0 699.5V694.9M1706.6 699.5V696.5M1807.4 699.5V695.5M1811.6 699.5V696.7M1815.8 699.5V693.7M1820.0 699.5V695.3M1824.2 699.5V696.0M1828.4 699.5V693.6M1832.6 699.5V694.4M1916.6 699.5V695.2M1920.8 699.5V693.9M1925.0 699.5V695.6M1929.2 699.5V694.0M1933.4 699.5V694.2M1937.6 699.5V696.6" stroke="#434348" stroke-width="1.2"/><path d="M547.4 695.3h0M551.6 694.8h0M555.8 694.6h0M560 695.1h0M564.2 695.1h0M568.4 695.2h0M572.6 693.7h0M660.8 697.2h0M757.4 696h0M929.6 696.4h0M938 696.7h0M942.2 693.9h0M946.4 695.8h0M950.6 693.7h0M954.8 693.9h0M959 693.6h0M963.2 695.9h0M967.4 693.6h0M971.6 693.9h0M1362.2 695.6h0M1366.4 696.1h0M1370.6 695.3h0M1374.8 695.7h0M1379 694.8h0M1383.2 696h0M1425.2 695.9h0M1429.4 694.3h0M1433.6 695.7h0M1437.8 695.9h0M1442 696.1h0M1446.2 696.7h0M1450.4 695.2h0M1454.6 694.7h0M1492.4 693.7h0M1496.6 696.7h0M1500.8 693.9h0M1505 694.9h0M1706.6 696.5h0M1807.4 695.5h0M1811.6 696.7h0M1815.8 693.7h0M1820 695.3h0M1824.2 696h0M1828.4 693.6h0M1832.6 694.4h0M1916.6 695.2h0M1920.8 693.9h0M1925 695.6h0M1929.2 694h0M1933.4 694.2h0M1937.6 696.6h0" stroke="#3e3e44" stroke-width="3.6" stroke-linecap="round"/><path d="M526 930V876M555 930V871M585 930V867M614 930V875M631 930V890M661 930V875M682 930V886M703 930V884M754 930V883M886 930V869M945 930V870M974 930V873M1097 930V864M1149 930V872M1245 930V871M1275 930V867M1398 930V870M1538 930V870M1564 930V874M1614 930V870M1661 930V879M1712 930V876M1742 930V874M1818 930V873M1848 930V868M1877 930V872M1924 930V868M1182 930V884M1292 930V892M1420 930V890M1478 930V886M1585 930V890M1372 930V873M1344 930V890M1051 930V894M843 930V884M529.3 930V904.5M559.4 930V904.0M580.9 930V908.0M602.4 930V905.9M606.7 930V905.3M615.3 930V904.6M688.4 930V903.0M727.1 930V906.6M744.3 930V902.3M748.6 930V904.1M761.5 930V904.6M765.8 930V902.2M774.4 930V902.7M791.6 930V903.2M795.9 930V906.1M834.6 930V904.7M856.1 930V907.1M869.0 930V906.3M899.1 930V907.2M933.5 930V908.4M950.7 930V902.4M976.5 930V905.3M985.1 930V908.8M998.0 930V903.3M1010.9 930V902.8M1015.2 930V903.8M1023.8 930V902.3M1045.3 930V905.0M1062.5 930V905.1M1075.4 930V905.5M1079.7 930V908.1M1088.3 930V908.6M1096.9 930V904.3M1127.0 930V906.8M1139.9 930V906.5M1208.7 930V906.1M1213.0 930V903.9M1234.5 930V902.5M1260.3 930V903.9M1277.5 930V902.9M1281.8 930V905.6M1294.7 930V902.9M1307.6 930V906.5M1320.5 930V904.9M1359.2 930V906.3M1363.5 930V904.6M1385.0 930V908.2M1393.6 930V906.6M1410.8 930V902.2M1440.9 930V902.5M1445.2 930V905.5M1458.1 930V903.6M1462.4 930V907.5M1479.6 930V902.4M1522.6 930V907.6M1526.9 930V908.7M1565.6 930V904.6M1582.8 930V904.9M1600.0 930V909.0M1608.6 930V903.7M1651.6 930V902.7M1655.9 930V908.3M1668.8 930V906.0M1673.1 930V906.3M1686.0 930V907.8M1698.9 930V907.2M1784.9 930V908.9M1793.5 930V906.4M1810.7 930V907.5M1827.9 930V904.2M1836.5 930V904.7M1858.0 930V904.5M1888.1 930V906.8M1922.5 930V903.3M1926.8 930V907.3" stroke="#9cc4ea" stroke-width="1"/><path d="M526 876h0M555 871h0M585 867h0M614 875h0M631 890h0M661 875h0M682 886h0M703 884h0M754 883h0M886 869h0M945 870h0M974 873h0M1097 864h0M1149 872h0M1245 871h0M1275 867h0M1398 870h0M1538 870h0M1564 874h0M1614 870h0M1661 879h0M1712 876h0M1742 874h0M1818 873h0M1848 868h0M1877 872h0M1924 868h0M1182 884h0M1292 892h0M1420 890h0M1478 886h0M1585 890h0M1372 873h0M1344 890h0M1051 894h0M843 884h0M529.3 904.5h0M559.4 904h0M580.9 908h0M602.4 905.9h0M606.7 905.3h0M615.3 904.6h0M688.4 903h0M727.1 906.6h0M744.3 902.3h0M748.6 904.1h0M761.5 904.6h0M765.8 902.2h0M774.4 902.7h0M791.6 903.2h0M795.9 906.1h0M834.6 904.7h0M856.1 907.1h0M869 906.3h0M899.1 907.2h0M933.5 908.4h0M950.7 902.4h0M976.5 905.3h0M985.1 908.8h0M998 903.3h0M1010.9 902.8h0M1015.2 903.8h0M1023.8 902.3h0M1045.3 905h0M1062.5 905.1h0M1075.4 905.5h0M1079.7 908.1h0M1088.3 908.6h0M1096.9 904.3h0M1127 906.8h0M1139.9 906.5h0M1208.7 906.1h0M1213 903.9h0M1234.5 902.5h0M1260.3 903.9h0M1277.5 902.9h0M1281.8 905.6h0M1294.7 902.9h0M1307.6 906.5h0M1320.5 904.9h0M1359.2 906.3h0M1363.5 904.6h0M1385 908.2h0M1393.6 906.6h0M1410.8 902.2h0M1440.9 902.5h0M1445.2 905.5h0M1458.1 903.6h0M1462.4 907.5h0M1479.6 902.4h0M1522.6 907.6h0M1526.9 908.7h0M1565.6 904.6h0M1582.8 904.9h0M1600 909h0M1608.6 903.7h0M1651.6 902.7h0M1655.9 908.3h0M1668.8 906h0M1673.1 906.3h0M1686 907.8h0M1698.9 907.2h0M1784.9 908.9h0M1793.5 906.4h0M1810.7 907.5h0M1827.9 904.2h0M1836.5 904.7h0M1858 904.5h0M1888.1 906.8h0M1922.5 903.3h0M1926.8 907.3h0" stroke="#7cb5ec" stroke-width="4.6" stroke-linecap="round"/><rect x="525" y="924.5" width="1423" height="12" fill="#8fb3ec"/><path d="M525.6 925.2h0M528.2 922.7h0M530 923.6h0M532.9 922.8h0M536.1 922.1h0M538.6 921.7h0M541.7 922.3h0M544.9 925.5h0M548.2 922.8h0M550.3 921.6h0M553.7 924.2h0M557.1 924.1h0M559.2 923.5h0M563.3 923.2h0M565.3 923.8h0M569.3 924.7h0M570.7 921.4h0M574.7 921.6h0M577.7 924h0M580.7 923h0M583.8 924.3h0M586.6 925.3h0M588.5 924.7h0M592.1 924.2h0M594.4 924.1h0M597.8 921.5h0M601.1 921.4h0M602.9 921.6h0M607.1 921.7h0M608.6 922.8h0M612.8 925.2h0M614.3 924.2h0M617.8 923h0M621.3 923.3h0M623.6 923.5h0M627.2 924.5h0M629 921.1h0M632.9 923.9h0M635 924.6h0M638.5 923h0M641.2 923.1h0M644.4 921.7h0M647.2 922.8h0M648.9 923.2h0M652.9 922.6h0M655.3 921.2h0M659.2 924.6h0M660.8 922.1h0M663.6 925.1h0M666.2 921.8h0M669.8 923.4h0M672.7 921.5h0M675.2 923.8h0M679.1 923.3h0M680.9 925.5h0M684.2 921.7h0M687.4 923.2h0M690.2 925.4h0M692.9 922.4h0M695.6 921.7h0M700 924.9h0M702.4 922.5h0M704.1 921.9h0M707 925.5h0M710.3 922.5h0M712.7 924.5h0M717 923.7h0M720 925.4h0M721.4 922.6h0M724.4 925h0M728.3 922.3h0M731 922.2h0M733 921.1h0M737.3 925.2h0M738.9 922.8h0M743.1 923.4h0M744.7 921.4h0M748.9 921.7h0M751.7 924.2h0M754.3 923.9h0M756.6 922.9h0M760.5 923.9h0M762.9 923.2h0M766.1 922.6h0M768 923.9h0M771 924.3h0M775.2 921.3h0M777.4 923.6h0M781.1 924.3h0M782.7 921h0M786.9 925.3h0M788.3 922.7h0M791.5 921.6h0M795.6 924h0M796.9 922.9h0M799.8 925.1h0M804.3 925.4h0M807.1 923.4h0M809.1 924.1h0M811.3 924.1h0M815.2 925.2h0M818.7 921.5h0M820.1 921.9h0M824.1 921.1h0M827.5 925h0M828.7 925h0M831.9 922h0M834.8 921.7h0M838.3 924.9h0M840.4 922.9h0M844.6 923.7h0M847.5 925.5h0M849.9 925h0M852.3 921.8h0M856.1 921.7h0M859.3 921.5h0M861 922.4h0M865.3 922.9h0M866.5 921.8h0M870.3 924.8h0M873.5 924h0M875.1 922.7h0M879.7 922h0M881.5 922h0M884.3 922h0M887.3 925h0M889.9 921.2h0M893 924.3h0M896.2 922.6h0M899.4 925.2h0M901.8 921.9h0M904.3 923h0M907.2 925.1h0M910.1 924.1h0M913.8 923.7h0M916.6 923.6h0M918.4 922.4h0M921.4 923.3h0M925.7 921.9h0M927.2 922.1h0M930.2 924.1h0M933.9 923h0M935.9 923.5h0M939 924h0M941.7 921.3h0M946.2 925.5h0M948.2 924h0M950.8 925.5h0M953.6 925.1h0M957.2 925.2h0M959.1 925.4h0M963.7 921.2h0M964.9 925.3h0M968.5 921.7h0M970.7 921.7h0M974.5 922h0M977 921.6h0M979.6 924.6h0M982.8 921.2h0M985.6 924.2h0M988.5 924.8h0M992.7 924h0M994.5 924.3h0M998.5 921.7h0M1001.3 925.4h0M1004 924h0M1005.6 922.4h0M1009.5 922.2h0M1012.2 924.7h0M1015 924.6h0M1017.5 921.4h0M1021.2 921.1h0M1024.6 925.4h0M1027.6 924h0M1029 925.3h0M1032.8 921.5h0M1035.4 925h0M1038.5 922.6h0M1042.2 923.2h0M1043.2 921.7h0M1046.9 924.1h0M1049.8 923.6h0M1052.9 922.3h0M1054.8 922.8h0M1059.2 925.3h0M1060.5 922.9h0M1065.3 923.8h0M1066.4 921.1h0M1069.9 921.7h0M1074 922.5h0M1076.7 923.5h0M1079.3 922.1h0M1082.3 921.7h0M1084 923.6h0M1087.8 922.9h0M1090.7 922.2h0M1094.3 923.2h0M1096.7 923.8h0M1100 924h0M1102 923.5h0M1105.8 924.4h0M1108.8 922.4h0M1110.9 922.8h0M1114.1 922.5h0M1116.9 923.9h0M1118.5 923.2h0M1121.6 924.4h0M1125.9 923.9h0M1128.6 924h0M1130.9 923.2h0M1134.7 923.6h0M1136 922.4h0M1140.1 921.3h0M1142 921.1h0M1145.7 921.2h0M1148.1 921.2h0M1151.6 922.8h0M1153.4 921.9h0M1157.5 921.5h0M1159.8 921.3h0M1162.1 924.9h0M1165.2 922.4h0M1169.1 923.3h0M1172.6 923.9h0M1175 923h0M1177.1 924h0M1179.7 922.1h0M1183.8 922.2h0M1185.8 925h0M1188.3 923.1h0M1192.4 921.2h0M1195.5 925.3h0M1198.1 923.1h0M1201 924h0M1203.4 925.2h0M1207.2 925.4h0M1208.7 922.2h0M1211.9 922.8h0M1214.7 923.7h0M1218.6 922.2h0M1221.4 923.9h0M1224.4 924h0M1226.7 922.8h0M1229.5 924.4h0M1231.6 922.2h0M1235.5 925.2h0M1237.8 924.2h0M1240.4 925h0M1244.2 925.4h0M1246.6 923.8h0M1249.2 921.7h0M1252.8 923.1h0M1256.2 921.1h0M1258.2 924.5h0M1260.8 922.5h0M1263.6 921.1h0M1267.5 923.6h0M1269.9 923.1h0M1272.3 921.5h0M1275.5 925.5h0M1278.1 921.4h0M1282.3 921.2h0M1285.3 923.4h0M1287.3 925.2h0M1290.3 923h0M1293.3 922.5h0M1297.3 922.3h0M1300 924.9h0M1302.3 922h0M1305.9 924.6h0M1308.8 921.4h0M1310.8 923.1h0M1313.6 923.8h0M1317.3 925.2h0M1319.6 925.3h0M1322.7 922.9h0M1324.4 921.4h0M1327.7 925.4h0M1331.4 921.8h0M1335 924.5h0M1337.2 925.2h0M1339.4 924.6h0M1341.9 921.3h0M1344.8 925.4h0M1349.5 921.9h0M1351 925.1h0M1354.5 921h0M1357.2 923.8h0M1360.9 925.5h0M1363.1 924.5h0M1365.5 924.7h0M1368.4 924.9h0M1371.6 921.4h0M1374.8 922.1h0M1377.7 922.8h0M1380.3 924.3h0M1383.9 923.8h0M1385.7 922.1h0M1389.7 925.4h0M1392.8 925.2h0M1395.3 922.5h0M1396.9 924.8h0M1401.2 923.6h0M1404.2 924.9h0M1406 921.2h0M1408.7 922.2h0M1411.8 924h0M1414.7 923h0M1417.6 921.1h0M1421.8 923.8h0M1423.2 924.3h0M1427.2 923.5h0M1430.1 924.1h0M1432.7 924.6h0M1436.5 925h0M1437.6 922h0M1440.9 923.7h0M1444.5 925.5h0M1447.1 922h0M1449.7 923.7h0M1452.2 923.6h0M1456.4 923.5h0M1458.6 924.8h0M1461.4 922.9h0M1463.8 922.7h0M1468.2 922.3h0M1471.3 924.4h0M1473.2 923.2h0M1475.3 922h0M1479.4 921.3h0M1483 924.2h0M1484.6 922.6h0M1487.8 922.2h0M1491.1 922.8h0M1492.9 921.1h0M1497 923.6h0M1500 923.3h0M1501.3 924.4h0M1504.9 925.3h0M1507.8 925.2h0M1511.6 923.2h0M1513.9 925.1h0M1517.7 924h0M1518.9 921.2h0M1522.5 923.5h0M1525.4 921.1h0M1528 922.9h0M1530.4 921h0M1534.3 921.8h0M1536.8 922h0M1540.4 921.7h0M1543.1 923.3h0M1545.9 922.8h0M1548.5 924.5h0M1551.9 924.8h0M1554.7 921.9h0M1556.5 925.1h0M1560.6 921.1h0M1562.6 921.1h0M1565.2 923.6h0M1569.3 922.3h0M1571.6 923.8h0M1574.5 922.4h0M1578.3 925.1h0M1581.3 924.2h0M1582.6 925.1h0M1587 922.3h0M1589.3 922.6h0M1592.3 923.7h0M1594.7 923.9h0M1598.8 924.5h0M1601.7 921.8h0M1603.2 923.7h0M1607.2 923.1h0M1609.8 922.6h0M1613 922.4h0M1616.1 923.2h0M1617.4 923.2h0M1621.5 924.8h0M1624.6 924.4h0M1627.4 925.2h0M1628.9 922.5h0M1633 924.4h0M1635.7 923.4h0M1638.4 924.6h0M1641.3 925.1h0M1644.6 923.5h0M1646.4 921.7h0M1650.6 921.2h0M1653.7 922h0M1655 922.1h0M1657.9 925.2h0M1661.4 921.1h0M1664.4 922.9h0M1666.9 921.8h0M1669.8 921.4h0M1673.8 921.9h0M1676.4 925h0M1679.9 924.6h0M1682 924.2h0M1684.5 924.7h0M1687.6 922.2h0M1690.7 923.6h0M1694.7 924.6h0M1697.3 922.3h0M1699.1 922.8h0M1702.7 921.2h0M1705.2 923.3h0M1707.9 925.2h0M1711.2 923.1h0M1713.7 925.2h0M1716.1 923.3h0M1719.3 923.6h0M1723 924.9h0M1725 921.5h0M1728.6 922.5h0M1731.3 923.5h0M1733.4 922.3h0M1736.9 925.3h0M1740.2 921.5h0M1743.7 924.6h0M1746.3 924.4h0M1748.7 925.5h0M1752.5 923.7h0M1754.7 921.3h0M1757.9 921.3h0M1760.9 922.1h0M1763.3 925.2h0M1766.5 924.7h0M1770.1 925.1h0M1772.2 921.1h0M1775.3 925.2h0M1778 922.1h0M1780.3 921.8h0M1784.4 923.4h0M1787.5 921.8h0M1788.8 924.6h0M1791.7 921.7h0M1794.9 924.3h0M1798.5 924.6h0M1801.3 924.3h0M1804.7 923.9h0M1807.8 924.6h0M1810.5 924.3h0M1812.2 921.5h0M1814.5 924.1h0M1819.1 922.4h0M1822.1 924h0M1824 923.9h0M1826.9 923.9h0M1829.1 923.7h0M1832.4 921.9h0M1835 922.1h0M1839.1 922.7h0M1842.5 924h0M1843.7 923.9h0M1847.7 924.1h0M1851.2 922.4h0M1852.2 922.8h0M1856.3 921.5h0M1858.5 921.5h0M1861.6 923.7h0M1864.9 922.8h0M1868.6 923.9h0M1870.8 921.9h0M1872.5 924h0M1876.7 923.8h0M1879.2 923.2h0M1881.3 923.4h0M1886 921.6h0M1887.8 922h0M1890.8 922.7h0M1893.1 922.6h0M1897.5 922.6h0M1898.7 922.2h0M1902.7 925h0M1904.9 923.9h0M1907.6 924.2h0M1910.5 922.5h0M1915.1 924.6h0M1917.2 922h0M1919.3 923h0M1922.7 921.3h0M1925.7 921.3h0M1929.3 924.6h0M1931.3 922.7h0M1934.9 921.4h0M1936.3 922.4h0M1941.2 921.1h0M1943.7 925.2h0M1945.8 924.5h0" stroke="#78b0ea" stroke-width="4" stroke-linecap="round"/><path d="M525 928.6H1948" stroke="#dc9c90" stroke-width="1.6" stroke-dasharray="9 5"/><path d="M530 927.1h0M540 928.1h0M555 927.8h0M560 927.1h0M565 928.5h0M570 928h0M595 927.6h0M600 927.3h0M635 927h0M645 927.6h0M650 927.5h0M655 928.1h0M675 928.4h0M685 927.8h0M695 926.9h0M715 927.3h0M730 927.9h0M755 927.4h0M770 927.4h0M785 927.6h0M790 927.9h0M825 927.7h0M850 927.8h0M875 927.9h0M880 927h0M900 927.8h0M910 927.7h0M920 927.2h0M925 927.9h0M965 926.6h0M985 927.3h0M990 927.4h0M1010 927h0M1030 928.4h0M1040 927.7h0M1050 928.4h0M1075 926.7h0M1110 927h0M1115 927.8h0M1140 926.8h0M1145 926.8h0M1150 928.3h0M1165 927.2h0M1170 928.5h0M1175 926.6h0M1190 927.6h0M1230 927.5h0M1260 927.4h0M1265 926.6h0M1290 928.2h0M1305 926.8h0M1325 927h0M1345 926.6h0M1355 927h0M1375 926.7h0M1380 927.7h0M1385 926.7h0M1425 928.5h0M1440 927h0M1455 927.9h0M1460 927.1h0M1470 927.3h0M1485 928.3h0M1535 926.6h0M1575 927.6h0M1590 927.3h0M1595 928h0M1605 927.4h0M1630 926.8h0M1650 927.2h0M1660 927.8h0M1670 927.7h0M1675 927.1h0M1680 927.1h0M1685 927.4h0M1690 926.8h0M1700 927.5h0M1770 926.8h0M1775 927.6h0M1790 927.2h0M1815 927.2h0M1835 927.2h0M1850 926.6h0M1890 927.8h0" stroke="#ee9f72" stroke-width="3" stroke-linecap="round"/><path d="M525 930.9H1948" stroke="#8a90e6" stroke-width="2"/><path d="M525 933.8H1948" stroke="#8fd2cf" stroke-width="3"/><path d="M525 936H1948" stroke="#b5e0df" stroke-width="1.2" stroke-dasharray="2 2"/><path d="M525 916.3H1948" stroke="#90ed7d" stroke-width="2"/><path d="M535.1 913V930M551.4 913V930M575.9 913V930M592.2 913V930M616.6 913V930M632.9 913V930M673.7 913V930M690.0 913V930M714.4 913V930M738.9 913V930M755.2 913V930M771.5 913V930M787.8 913V930M804.1 913V930M820.4 913V930M836.7 913V930M853.0 913V930M877.4 913V930M893.7 913V930M910.0 913V930M926.3 913V930M942.6 913V930M975.2 913V930M991.5 913V930M1016.0 913V930M1040.4 913V930M1064.9 913V930M1081.2 913V930M1097.5 913V930M1113.8 913V930M1138.2 913V930M1162.7 913V930M1179.0 913V930M1195.3 913V930M1211.6 913V930M1227.9 913V930M1252.4 913V930M1268.7 913V930M1285.0 913V930M1301.3 913V930M1317.6 913V930M1333.9 913V930M1350.2 913V930M1366.5 913V930M1382.8 913V930M1399.1 913V930M1415.4 913V930M1431.7 913V930M1448.0 913V930M1464.3 913V930M1488.7 913V930M1505.0 913V930M1537.6 913V930M1570.2 913V930M1586.5 913V930M1611.0 913V930M1627.3 913V930M1659.9 913V930M1676.2 913V930M1692.5 913V930M1716.9 913V930M1733.2 913V930M1757.7 913V930M1782.1 913V930M1798.4 913V930M1814.7 913V930M1831.0 913V930M1847.3 913V930M1863.6 913V930M1879.9 913V930M1896.2 913V930M1912.5 913V930M1928.8 913V930" stroke="#9cb8c8" stroke-width="1"/><path d="M535.1 913h0M543.3 913h0M551.4 913h0M567.7 913h0M575.9 913h0M584 913h0M592.2 913h0M600.3 913h0M616.6 913h0M624.8 913h0M632.9 913h0M641.1 913h0M673.7 913h0M681.8 913h0M690 913h0M698.1 913h0M714.4 913h0M730.7 913h0M738.9 913h0M747 913h0M755.2 913h0M763.3 913h0M771.5 913h0M779.6 913h0M787.8 913h0M795.9 913h0M804.1 913h0M812.2 913h0M820.4 913h0M828.5 913h0M836.7 913h0M844.8 913h0M853 913h0M861.1 913h0M877.4 913h0M885.6 913h0M893.7 913h0M901.9 913h0M910 913h0M918.2 913h0M926.3 913h0M934.5 913h0M942.6 913h0M967.1 913h0M975.2 913h0M983.4 913h0M991.5 913h0M999.7 913h0M1016 913h0M1032.3 913h0M1040.4 913h0M1056.7 913h0M1064.9 913h0M1073 913h0M1081.2 913h0M1089.3 913h0M1097.5 913h0M1105.6 913h0M1113.8 913h0M1130.1 913h0M1138.2 913h0M1146.4 913h0M1162.7 913h0M1170.9 913h0M1179 913h0M1187.2 913h0M1195.3 913h0M1203.5 913h0M1211.6 913h0M1219.8 913h0M1227.9 913h0M1236.1 913h0M1252.4 913h0M1260.5 913h0M1268.7 913h0M1276.8 913h0M1285 913h0M1293.1 913h0M1301.3 913h0M1309.4 913h0M1317.6 913h0M1325.7 913h0M1333.9 913h0M1342 913h0M1350.2 913h0M1358.3 913h0M1366.5 913h0M1374.6 913h0M1382.8 913h0M1390.9 913h0M1399.1 913h0M1407.2 913h0M1415.4 913h0M1423.5 913h0M1431.7 913h0M1439.8 913h0M1448 913h0M1456.1 913h0M1464.3 913h0M1480.6 913h0M1488.7 913h0M1496.9 913h0M1505 913h0M1529.5 913h0M1537.6 913h0M1562.1 913h0M1570.2 913h0M1578.4 913h0M1586.5 913h0M1602.8 913h0M1611 913h0M1619.1 913h0M1627.3 913h0M1643.6 913h0M1659.9 913h0M1668 913h0M1676.2 913h0M1684.3 913h0M1692.5 913h0M1700.6 913h0M1716.9 913h0M1725.1 913h0M1733.2 913h0M1749.5 913h0M1757.7 913h0M1774 913h0M1782.1 913h0M1790.3 913h0M1798.4 913h0M1806.6 913h0M1814.7 913h0M1822.9 913h0M1831 913h0M1839.2 913h0M1847.3 913h0M1855.5 913h0M1863.6 913h0M1871.8 913h0M1879.9 913h0M1888.1 913h0M1896.2 913h0M1904.4 913h0M1912.5 913h0M1920.7 913h0M1928.8 913h0M1937 913h0" stroke="#6fb0c4" stroke-width="4.4" stroke-linecap="round"/><path d="M527 916.3h0M535.1 916.3h0M543.3 916.3h0M551.4 916.3h0M559.6 916.3h0M567.7 916.3h0M575.9 916.3h0M584 916.3h0M592.2 916.3h0M600.3 916.3h0M608.5 916.3h0M616.6 916.3h0M624.8 916.3h0M632.9 916.3h0M641.1 916.3h0M649.2 916.3h0M657.4 916.3h0M665.5 916.3h0M673.7 916.3h0M681.8 916.3h0M690 916.3h0M698.1 916.3h0M706.3 916.3h0M714.4 916.3h0M722.6 916.3h0M730.7 916.3h0M738.9 916.3h0M747 916.3h0M755.2 916.3h0M763.3 916.3h0M771.5 916.3h0M779.6 916.3h0M787.8 916.3h0M795.9 916.3h0M804.1 916.3h0M812.2 916.3h0M820.4 916.3h0M828.5 916.3h0M836.7 916.3h0M844.8 916.3h0M853 916.3h0M861.1 916.3h0M869.3 916.3h0M877.4 916.3h0M885.6 916.3h0M893.7 916.3h0M901.9 916.3h0M910 916.3h0M918.2 916.3h0M926.3 916.3h0M934.5 916.3h0M942.6 916.3h0M950.8 916.3h0M958.9 916.3h0M967.1 916.3h0M975.2 916.3h0M983.4 916.3h0M991.5 916.3h0M999.7 916.3h0M1007.8 916.3h0M1016 916.3h0M1024.1 916.3h0M1032.3 916.3h0M1040.4 916.3h0M1048.6 916.3h0M1056.7 916.3h0M1064.9 916.3h0M1073 916.3h0M1081.2 916.3h0M1089.3 916.3h0M1097.5 916.3h0M1105.6 916.3h0M1113.8 916.3h0M1121.9 916.3h0M1130.1 916.3h0M1138.2 916.3h0M1146.4 916.3h0M1154.6 916.3h0M1162.7 916.3h0M1170.9 916.3h0M1179 916.3h0M1187.2 916.3h0M1195.3 916.3h0M1203.5 916.3h0M1211.6 916.3h0M1219.8 916.3h0M1227.9 916.3h0M1236.1 916.3h0M1244.2 916.3h0M1252.4 916.3h0M1260.5 916.3h0M1268.7 916.3h0M1276.8 916.3h0M1285 916.3h0M1293.1 916.3h0M1301.3 916.3h0M1309.4 916.3h0M1317.6 916.3h0M1325.7 916.3h0M1333.9 916.3h0M1342 916.3h0M1350.2 916.3h0M1358.3 916.3h0M1366.5 916.3h0M1374.6 916.3h0M1382.8 916.3h0M1390.9 916.3h0M1399.1 916.3h0M1407.2 916.3h0M1415.4 916.3h0M1423.5 916.3h0M1431.7 916.3h0M1439.8 916.3h0M1448 916.3h0M1456.1 916.3h0M1464.3 916.3h0M1472.4 916.3h0M1480.6 916.3h0M1488.7 916.3h0M1496.9 916.3h0M1505 916.3h0M1513.2 916.3h0M1521.3 916.3h0M1529.5 916.3h0M1537.6 916.3h0M1545.8 916.3h0M1553.9 916.3h0M1562.1 916.3h0M1570.2 916.3h0M1578.4 916.3h0M1586.5 916.3h0M1594.7 916.3h0M1602.8 916.3h0M1611 916.3h0M1619.1 916.3h0M1627.3 916.3h0M1635.4 916.3h0M1643.6 916.3h0M1651.7 916.3h0M1659.9 916.3h0M1668 916.3h0M1676.2 916.3h0M1684.3 916.3h0M1692.5 916.3h0M1700.6 916.3h0M1708.8 916.3h0M1716.9 916.3h0M1725.1 916.3h0M1733.2 916.3h0M1741.4 916.3h0M1749.5 916.3h0M1757.7 916.3h0M1765.8 916.3h0M1774 916.3h0M1782.1 916.3h0M1790.3 916.3h0M1798.4 916.3h0M1806.6 916.3h0M1814.7 916.3h0M1822.9 916.3h0M1831 916.3h0M1839.2 916.3h0M1847.3 916.3h0M1855.5 916.3h0M1863.6 916.3h0M1871.8 916.3h0M1879.9 916.3h0M1888.1 916.3h0M1896.2 916.3h0M1904.4 916.3h0M1912.5 916.3h0M1920.7 916.3h0M1928.8 916.3h0M1937 916.3h0M1945.1 916.3h0" stroke="#8fe87c" stroke-width="5" stroke-linecap="round"/><path d="M526 877 L555 877 L585 877 L614 877 L631 897 L661 877 L682 897 L703 888 L707 929 L717 927 L729 909 L754 885 L763 924 L775 908 L796 893 L817 895 L820 929 L843 890 L856 906 L886 877 L890 924 L894 929 L915 897 L945 877 L974 877 L996 886 L996 929 L1006 925 L1013 909 L1018 929 L1030 904 L1036 929 L1051 901 L1068 896 L1097 877 L1119 896 L1149 877 L1165 896 L1182 901 L1182 929 L1198 910 L1212 920 L1230 904 L1245 878 L1275 878 L1292 898 L1305 907 L1322 905 L1344 897 L1372 878 L1398 878 L1420 897 L1441 897 L1458 897 L1478 892 L1479 931 L1487 922 L1509 897 L1538 878 L1564 878 L1585 897 L1614 878 L1632 897 L1636 930 L1661 883 L1687 889 L1712 885 L1742 878 L1742 931 L1759 901 L1772 915 L1788 897 L1818 878 L1848 878 L1877 878 L1895 896 L1924 878" fill="none" stroke="#434348" stroke-width="1.4"/><path d="M526 877h0M555 877h0M585 877h0M614 877h0M631 897h0M661 877h0M682 897h0M703 888h0M707 929h0M717 927h0M729 909h0M754 885h0M763 924h0M775 908h0M796 893h0M817 895h0M820 929h0M843 890h0M856 906h0M886 877h0M890 924h0M894 929h0M915 897h0M945 877h0M974 877h0M996 886h0M996 929h0M1006 925h0M1013 909h0M1018 929h0M1030 904h0M1036 929h0M1051 901h0M1068 896h0M1097 877h0M1119 896h0M1149 877h0M1165 896h0M1182 901h0M1182 929h0M1198 910h0M1212 920h0M1230 904h0M1245 878h0M1275 878h0M1292 898h0M1305 907h0M1322 905h0M1344 897h0M1372 878h0M1398 878h0M1420 897h0M1441 897h0M1458 897h0M1478 892h0M1479 931h0M1487 922h0M1509 897h0M1538 878h0M1564 878h0M1585 897h0M1614 878h0M1632 897h0M1636 930h0M1661 883h0M1687 889h0M1712 885h0M1742 878h0M1742 931h0M1759 901h0M1772 915h0M1788 897h0M1818 878h0M1848 878h0M1877 878h0M1895 896h0M1924 878h0" stroke="#434348" stroke-width="4" stroke-linecap="round"/><path d="M514 1084.8 L516.2 1085.1 L518.4 1085.4 L520.6 1083.1 L522.8 1084.5 L525 1084.2 L527.2 1085 L529.4 1084.5 L531.6 1083.9 L533.8 1084.5 L536 1084.8 L538.2 1084.5 L540.4 1085.6 L542.6 1085.2 L544.8 1084.8 L547 1084.8 L549.2 1085.1 L551.4 1083.6 L553.6 1085.5 L555.8 1085.7 L558 1085.3 L560.2 1084.5 L562.4 1084.6 L564.6 1084.4 L566.8 1085.6 L569 1085 L571.2 1084.9 L573.4 1085.4 L575.6 1083.5 L577.8 1084.6 L580 1083.7 L582.2 1083.1 L584.4 1084.7 L586.6 1085.6 L588.8 1085.7 L591 1085.1 L593.2 1085.8 L595.4 1084.5 L597.6 1085 L599.8 1083.6 L602 1083.2 L604.2 1084.8 L606.4 1085.3 L608.6 1084.8 L610.8 1085.3 L613 1084.8 L615.2 1084.9 L617.4 1085.2 L619.6 1084.7 L621.8 1085.6 L624 1085.3 L626.2 1083.2 L628.4 1084.6 L630.6 1085.2 L632.8 1084.4 L635 1084.6 L637.2 1084.3 L639.4 1085.2 L641.6 1085 L643.8 1084.8 L646 1085 L648.2 1085.1 L650.4 1084.8 L652.6 1085.6 L654.8 1084.8 L657 1085.2 L659.2 1085.8 L661.4 1085.3 L663.6 1084.8 L665.8 1083.7 L668 1084.8 L670.2 1083.8 L672.4 1085.7 L674.6 1084.7 L676.8 1084.5 L679 1085.3 L681.2 1085.7 L683.4 1085.6 L685.6 1085 L687.8 1085.5 L690 1085.3 L692.2 1085.5 L694.4 1084.6 L696.6 1085.4 L698.8 1085.7 L701 1084.7 L703.2 1085.6 L705.4 1083.1 L707.6 1085.7 L709.8 1084.6 L712 1085.4 L714.2 1083.4 L716.4 1083.6 L718.6 1085 L720.8 1085.2 L723 1084.4 L725.2 1085.5 L727.4 1085.3 L729.6 1085.7 L731.8 1084.8 L734 1085.7 L736.2 1084.4 L738.4 1085.3 L740.6 1085.2 L742.8 1084 L745 1084.5 L747.2 1085 L749.4 1085.1 L751.6 1084.6 L753.8 1085.5 L756 1084.6 L758.2 1085.2 L760.4 1085.6 L762.6 1084.4 L764.8 1084.7 L767 1085 L769.2 1085 L771.4 1085.1 L773.6 1084.7 L775.8 1085.7 L778 1084.7 L780.2 1083.5 L782.4 1084.8 L784.6 1084.9 L786.8 1084.3 L789 1084.8 L791.2 1084.9 L793.4 1085 L795.6 1085.7 L797.8 1084.3 L800 1085.3 L802.2 1085.1 L804.4 1085.7 L806.6 1084.9 L808.8 1085.5 L811 1085.1 L813.2 1085.4 L815.4 1084.7 L817.6 1085.6 L819.8 1083.3 L822 1084.7 L824.2 1085.7 L826.4 1084.5 L828.6 1084.6 L830.8 1084.8 L833 1085.5 L835.2 1085.7 L837.4 1084.4 L839.6 1084.6 L841.8 1085.6 L844 1085.4 L846.2 1085.8 L848.4 1085 L850.6 1085.4 L852.8 1085.8 L855 1085.1 L857.2 1084.8 L859.4 1085.8 L861.6 1084.8 L863.8 1084.7 L866 1085.6 L868.2 1085.1 L870.4 1083.1 L872.6 1084.7 L874.8 1084.7 L877 1085 L879.2 1083.7 L881.4 1085.6 L883.6 1084 L885.8 1085.5 L888 1085.1 L890.2 1085.3 L892.4 1084.6 L894.6 1083.7 L896.8 1085.3 L899 1085.8 L901.2 1085.5 L903.4 1085.4 L905.6 1085 L907.8 1085.7 L910 1084.6 L912.2 1084.7 L914.4 1084.7 L916.6 1085.2 L918.8 1084.8 L921 1085 L923.2 1085.3 L925.4 1085.5 L927.6 1084.6 L929.8 1084.9 L932 1084.9 L934.2 1085.3 L936.4 1085.1 L938.6 1084.9 L940.8 1085.2 L943 1083.1 L945.2 1085.6 L947.4 1085.6 L949.6 1084.5 L951.8 1084.5 L954 1084.5 L956.2 1085.3 L958.4 1084.9 L960.6 1085.7 L962.8 1085.1 L965 1085.2 L967.2 1085.6 L969.4 1085.5 L971.6 1085.7 L973.8 1085.7 L976 1085.4 L978.2 1084.1 L980.4 1084.9 L982.6 1084.4 L984.8 1084.3 L987 1084.7 L989.2 1085.2 L991.4 1085.5 L993.6 1084.7 L995.8 1085.8 L998 1085.7 L1000.2 1085.4 L1002.4 1084.5 L1004.6 1085.4 L1006.8 1085.4 L1009 1085.3 L1011.2 1083.2 L1013.4 1085.3 L1015.6 1084.6 L1017.8 1084.6 L1020 1085.1 L1022.2 1085.1 L1024.4 1085.1 L1026.6 1085.2 L1028.8 1083.9 L1031 1085.2 L1033.2 1085.6 L1035.4 1084.8 L1037.6 1085.6 L1039.8 1085.2 L1042 1084.7 L1044.2 1083.6 L1046.4 1085.5 L1048.6 1084.7 L1050.8 1084.9 L1053 1085.2 L1055.2 1085.5 L1057.4 1084.5 L1059.6 1085 L1061.8 1084.9 L1064 1085.3 L1066.2 1084.5 L1068.4 1083.7 L1070.6 1083.6 L1072.8 1083.6 L1075 1085.2 L1077.2 1085.4 L1079.4 1085.5 L1081.6 1085.4 L1083.8 1085 L1086 1083 L1088.2 1084.7 L1090.4 1084.5 L1092.6 1085.1 L1094.8 1084.5 L1097 1085.5 L1099.2 1084.9 L1101.4 1084.7 L1103.6 1084.9 L1105.8 1085.3 L1108 1084.5 L1110.2 1085.7 L1112.4 1085.1 L1114.6 1085.5 L1116.8 1085.6 L1119 1085 L1121.2 1083.6 L1123.4 1085.5 L1125.6 1085.2 L1127.8 1085.6 L1130 1084.8 L1132.2 1084.8 L1134.4 1085.2 L1136.6 1084 L1138.8 1085.4 L1141 1084.9 L1143.2 1085.4 L1145.4 1085.5 L1147.6 1085.4 L1149.8 1085.6 L1152 1083.6 L1154.2 1084.4 L1156.4 1085.8 L1158.6 1084.3 L1160.8 1084.8 L1163 1084.8 L1165.2 1084.6 L1167.4 1085.7 L1169.6 1084.5 L1171.8 1084.7 L1174 1084.6 L1176.2 1085.3 L1178.4 1084.8 L1180.6 1084.7 L1182.8 1084.5 L1185 1084.9 L1187.2 1085.1 L1189.4 1085.4 L1191.6 1084.1 L1193.8 1085.1 L1196 1085.2 L1198.2 1085.2 L1200.4 1085.6 L1202.6 1085.2 L1204.8 1085.8 L1207 1085.3 L1209.2 1085.4 L1211.4 1085.1 L1213.6 1085.3 L1215.8 1084.4 L1218 1084.6 L1220.2 1084.9 L1222.4 1085.2 L1224.6 1085.1 L1226.8 1084.8 L1229 1084.4 L1231.2 1085.3 L1233.4 1084.8 L1235.6 1085.2 L1237.8 1084.5 L1240 1084.3 L1242.2 1084.6 L1244.4 1084.7 L1246.6 1083.1 L1248.8 1085.1 L1251 1084.8 L1253.2 1085.1 L1255.4 1085.6 L1257.6 1085.1 L1259.8 1084.5 L1262 1084.8 L1264.2 1085.6 L1266.4 1084.5 L1268.6 1084.5 L1270.8 1083.4 L1273 1085.4 L1275.2 1085.5 L1277.4 1084.8 L1279.6 1085.3 L1281.8 1084.8 L1284 1084.6 L1286.2 1085.3 L1288.4 1084.5 L1290.6 1084.8 L1292.8 1085.2 L1295 1085.7 L1297.2 1083.3 L1299.4 1085 L1301.6 1085.1 L1303.8 1085.5 L1306 1085.2 L1308.2 1085.1 L1310.4 1085.4 L1312.6 1084.9 L1314.8 1085.5 L1317 1084.5 L1319.2 1084.5 L1321.4 1083.1 L1323.6 1084.5 L1325.8 1084.9 L1328 1083.7 L1330.2 1085.3 L1332.4 1084.9 L1334.6 1084.4 L1336.8 1085.7 L1339 1085 L1341.2 1084.4 L1343.4 1085.2 L1345.6 1084.5 L1347.8 1084.9 L1350 1085.4 L1352.2 1083.9 L1354.4 1084.5 L1356.6 1084.7 L1358.8 1085.1 L1361 1085.5 L1363.2 1085 L1365.4 1085 L1367.6 1084.5 L1369.8 1084 L1372 1085.7 L1374.2 1084.8 L1376.4 1084.9 L1378.6 1085.4 L1380.8 1084.1 L1383 1085 L1385.2 1085.2 L1387.4 1085.2 L1389.6 1083.7 L1391.8 1085 L1394 1083.3 L1396.2 1085.8 L1398.4 1085.7 L1400.6 1083.6 L1402.8 1085.6 L1405 1085.4 L1407.2 1085 L1409.4 1085.3 L1411.6 1085 L1413.8 1084.5 L1416 1085.2 L1418.2 1084.9 L1420.4 1085.1 L1422.6 1084.9 L1424.8 1084.1 L1427 1085.6 L1429.2 1084.4 L1431.4 1085 L1433.6 1084.5 L1435.8 1085.4 L1438 1084.9 L1440.2 1085.2 L1442.4 1085.2 L1444.6 1084.7 L1446.8 1085.8 L1449 1084.8 L1451.2 1084.4 L1453.4 1085.3 L1455.6 1084.2 L1457.8 1085.2 L1460 1083.7 L1462.2 1083.7 L1464.4 1085.1 L1466.6 1084.6 L1468.8 1085.2 L1471 1085.5 L1473.2 1085.5 L1475.4 1085.4 L1477.6 1085.1 L1479.8 1084.5 L1482 1085 L1484.2 1085.6 L1486.4 1084.8 L1488.6 1084.6 L1490.8 1084.5 L1493 1083.9 L1495.2 1085 L1497.4 1085.5 L1499.6 1084.9 L1501.8 1084.2 L1504 1085.1 L1506.2 1085.6 L1508.4 1085.4 L1510.6 1084.7 L1512.8 1085.4 L1515 1085.3 L1517.2 1085.2 L1519.4 1085.8 L1521.6 1083.5 L1523.8 1085.1 L1526 1085.6 L1528.2 1085.1 L1530.4 1084.6 L1532.6 1085.7 L1534.8 1085 L1537 1084 L1539.2 1085.7 L1541.4 1085 L1543.6 1084.3 L1545.8 1084.4 L1548 1085.5 L1550.2 1084.6 L1552.4 1085.5 L1554.6 1084.5 L1556.8 1084.9 L1559 1085.6 L1561.2 1085.6 L1563.4 1084.4 L1565.6 1083.7 L1567.8 1085.1 L1570 1085.2 L1572.2 1085.5 L1574.4 1084.4 L1576.6 1084.9 L1578.8 1085.5 L1581 1085.2 L1583.2 1085.5 L1585.4 1084.4 L1587.6 1085.5 L1589.8 1084.7 L1592 1085.8 L1594.2 1083.6 L1596.4 1084.6 L1598.6 1083.1 L1600.8 1085.3 L1603 1083.6 L1605.2 1083.5 L1607.4 1085.4 L1609.6 1084.2 L1611.8 1085.7 L1614 1084.7 L1616.2 1085.6 L1618.4 1084.9 L1620.6 1084.4 L1622.8 1084.9 L1625 1085.4 L1627.2 1084.8 L1629.4 1085.1 L1631.6 1084.8 L1633.8 1085.5 L1636 1084.8 L1638.2 1084.8 L1640.4 1085.6 L1642.6 1084.6 L1644.8 1084.5 L1647 1084.6 L1649.2 1085.2 L1651.4 1085.1 L1653.6 1084.4 L1655.8 1085.5 L1658 1084.5 L1660.2 1084.5 L1662.4 1085.3 L1664.6 1084.6 L1666.8 1084 L1669 1084 L1671.2 1085 L1673.4 1085.6 L1675.6 1084.7 L1677.8 1083.7 L1680 1083.5 L1682.2 1085 L1684.4 1085.3 L1686.6 1084.8 L1688.8 1084.5 L1691 1083.2 L1693.2 1085.3 L1695.4 1083.1 L1697.6 1083.9 L1699.8 1085.5 L1702 1084.8 L1704.2 1084.7 L1706.4 1085.1 L1708.6 1085.7 L1710.8 1085.5 L1713 1085.5 L1715.2 1084.8 L1717.4 1084.4 L1719.6 1085 L1721.8 1085.7 L1724 1085.1 L1726.2 1084.8 L1728.4 1085.7 L1730.6 1085.3 L1732.8 1084.5 L1735 1084.5 L1737.2 1084.9 L1739.4 1085.6 L1741.6 1084.9 L1743.8 1085.6 L1746 1085.3 L1748.2 1083.4 L1750.4 1084.5 L1752.6 1084.7 L1754.8 1085.3 L1757 1084.5 L1759.2 1085.1 L1761.4 1084.4 L1763.6 1085.2 L1765.8 1083.3 L1768 1085.2 L1770.2 1085.7 L1772.4 1084.4 L1774.6 1084.7 L1776.8 1084.1 L1779 1085.2 L1781.2 1084.4 L1783.4 1085.3 L1785.6 1085 L1787.8 1083.3 L1790 1085.7 L1792.2 1084.8 L1794.4 1085.2 L1796.6 1084.5 L1798.8 1085.7 L1801 1084.2 L1803.2 1084.9 L1805.4 1085.7 L1807.6 1084.6 L1809.8 1085.2 L1812 1085.1 L1814.2 1084.8 L1816.4 1085.3 L1818.6 1084.8 L1820.8 1084.7 L1823 1084.4 L1825.2 1085.1 L1827.4 1084.9 L1829.6 1085.1 L1831.8 1083.5 L1834 1085.6 L1836.2 1084.6 L1838.4 1084.9 L1840.6 1084.9 L1842.8 1085.1 L1845 1085.2 L1847.2 1084.2 L1849.4 1085.6 L1851.6 1084.1 L1853.8 1085.2 L1856 1085.7 L1858.2 1085.4 L1860.4 1084.4 L1862.6 1083.9 L1864.8 1084.1 L1867 1085.1 L1869.2 1085.6 L1871.4 1085 L1873.6 1084.6 L1875.8 1085.5 L1878 1084.5 L1880.2 1083.6 L1882.4 1085.4 L1884.6 1085.6 L1886.8 1085.2 L1889 1083.3 L1891.2 1085.7 L1893.4 1084.9 L1895.6 1084.5 L1897.8 1085.8 L1900 1084.6 L1902.2 1085.1 L1904.4 1085.3 L1906.6 1085.2 L1908.8 1085.8 L1911 1085.1 L1913.2 1085.1 L1915.4 1083.1 L1917.6 1085.8 L1919.8 1084.9 L1922 1085.3 L1924.2 1085.8 L1926.4 1084.5 L1928.6 1085.7 L1930.8 1085.5 L1933 1085.4 L1935.2 1084.7 L1937.4 1084.6 L1939.6 1085.4 L1941.8 1085.1 L1944 1085.4 L1946.2 1083.3 L1946.2 1093.7 L1944 1092 L1941.8 1092.4 L1939.6 1092 L1937.4 1093 L1935.2 1093.2 L1933 1092.3 L1930.8 1092.6 L1928.6 1091.6 L1926.4 1093.3 L1924.2 1091.9 L1922 1092.1 L1919.8 1092.9 L1917.6 1091.8 L1915.4 1094.4 L1913.2 1092.5 L1911 1092.6 L1908.8 1091.1 L1906.6 1092.7 L1904.4 1091.8 L1902.2 1092.7 L1900 1092.4 L1897.8 1091.4 L1895.6 1093.1 L1893.4 1093.2 L1891.2 1091.7 L1889 1094.1 L1886.8 1092.4 L1884.6 1091.7 L1882.4 1092.7 L1880.2 1094.5 L1878 1093.4 L1875.8 1092.1 L1873.6 1093.4 L1871.4 1093.1 L1869.2 1091.8 L1867 1092.4 L1864.8 1093.9 L1862.6 1093.6 L1860.4 1093.1 L1858.2 1092.1 L1856 1092 L1853.8 1092.2 L1851.6 1093.7 L1849.4 1092.1 L1847.2 1093.2 L1845 1091.8 L1842.8 1092.8 L1840.6 1093.2 L1838.4 1092.1 L1836.2 1092.3 L1834 1092.1 L1831.8 1094.4 L1829.6 1092.4 L1827.4 1092 L1825.2 1093 L1823 1093 L1820.8 1092.7 L1818.6 1092.5 L1816.4 1092.8 L1814.2 1092.2 L1812 1092.8 L1809.8 1091.8 L1807.6 1093 L1805.4 1092.1 L1803.2 1092.1 L1801 1093.5 L1798.8 1091.3 L1796.6 1093.6 L1794.4 1092.8 L1792.2 1092.5 L1790 1091.4 L1787.8 1094.8 L1785.6 1092.8 L1783.4 1091.6 L1781.2 1092.6 L1779 1092.7 L1776.8 1093.8 L1774.6 1092.9 L1772.4 1092.8 L1770.2 1091.9 L1768 1091.8 L1765.8 1094.7 L1763.6 1092.7 L1761.4 1093.3 L1759.2 1092.9 L1757 1093.5 L1754.8 1092 L1752.6 1092.4 L1750.4 1093.2 L1748.2 1093.5 L1746 1092.9 L1743.8 1092.4 L1741.6 1092.9 L1739.4 1091.5 L1737.2 1092.1 L1735 1092.9 L1732.8 1092.5 L1730.6 1092.7 L1728.4 1091.7 L1726.2 1093 L1724 1092.1 L1721.8 1092.4 L1719.6 1093.2 L1717.4 1093.7 L1715.2 1093 L1713 1091.6 L1710.8 1092.4 L1708.6 1092.4 L1706.4 1092.9 L1704.2 1092.3 L1702 1092.7 L1699.8 1091.8 L1697.6 1094 L1695.4 1094.4 L1693.2 1091.7 L1691 1093.8 L1688.8 1092.6 L1686.6 1092.2 L1684.4 1092.1 L1682.2 1092.2 L1680 1094.3 L1677.8 1093.4 L1675.6 1092.6 L1673.4 1091.8 L1671.2 1093.1 L1669 1093.3 L1666.8 1093.1 L1664.6 1093.5 L1662.4 1092.1 L1660.2 1093.2 L1658 1093 L1655.8 1092 L1653.6 1093 L1651.4 1092.9 L1649.2 1092.8 L1647 1092.7 L1644.8 1093.3 L1642.6 1093.5 L1640.4 1092.6 L1638.2 1092.7 L1636 1093.1 L1633.8 1092.6 L1631.6 1092.1 L1629.4 1091.9 L1627.2 1092.5 L1625 1092.4 L1622.8 1093.3 L1620.6 1092.6 L1618.4 1092.7 L1616.2 1091.6 L1614 1092.8 L1611.8 1092.4 L1609.6 1093.1 L1607.4 1092.5 L1605.2 1093.8 L1603 1093.8 L1600.8 1092.3 L1598.6 1094 L1596.4 1092.4 L1594.2 1093.8 L1592 1091.2 L1589.8 1092.4 L1587.6 1092.5 L1585.4 1093 L1583.2 1091.5 L1581 1092.1 L1578.8 1092.5 L1576.6 1092.8 L1574.4 1093 L1572.2 1092.5 L1570 1092.6 L1567.8 1092.4 L1565.6 1093.3 L1563.4 1093 L1561.2 1092.2 L1559 1091.6 L1556.8 1092.6 L1554.6 1092.5 L1552.4 1091.7 L1550.2 1092.5 L1548 1092.3 L1545.8 1093.2 L1543.6 1093.7 L1541.4 1092.7 L1539.2 1091.4 L1537 1093.8 L1534.8 1092.6 L1532.6 1091.5 L1530.4 1093 L1528.2 1092.8 L1526 1092.5 L1523.8 1092.6 L1521.6 1093.5 L1519.4 1091.5 L1517.2 1092 L1515 1091.7 L1512.8 1092.4 L1510.6 1092.6 L1508.4 1091.9 L1506.2 1092 L1504 1092.2 L1501.8 1092.7 L1499.6 1092.1 L1497.4 1092.5 L1495.2 1093.1 L1493 1093.8 L1490.8 1093.7 L1488.6 1092.9 L1486.4 1093.3 L1484.2 1092.1 L1482 1092.4 L1479.8 1092.9 L1477.6 1092.7 L1475.4 1091.8 L1473.2 1091.9 L1471 1091.5 L1468.8 1092.2 L1466.6 1093.4 L1464.4 1091.8 L1462.2 1093.4 L1460 1094.2 L1457.8 1092.1 L1455.6 1093.7 L1453.4 1091.7 L1451.2 1093.1 L1449 1092.7 L1446.8 1091.9 L1444.6 1093.3 L1442.4 1092.2 L1440.2 1092.4 L1438 1092.2 L1435.8 1091.8 L1433.6 1092.9 L1431.4 1092.5 L1429.2 1093.5 L1427 1091.7 L1424.8 1093.5 L1422.6 1092.7 L1420.4 1093 L1418.2 1092.2 L1416 1092.6 L1413.8 1092.5 L1411.6 1092.1 L1409.4 1092.8 L1407.2 1092.6 L1405 1092.1 L1402.8 1092.3 L1400.6 1093.9 L1398.4 1092 L1396.2 1091.7 L1394 1094.3 L1391.8 1092.2 L1389.6 1093.7 L1387.4 1091.8 L1385.2 1092.6 L1383 1092.7 L1380.8 1093.4 L1378.6 1091.7 L1376.4 1093 L1374.2 1092.7 L1372 1092 L1369.8 1094.1 L1367.6 1092.8 L1365.4 1092.2 L1363.2 1092.5 L1361 1091.9 L1358.8 1092.3 L1356.6 1092.9 L1354.4 1093.3 L1352.2 1093.2 L1350 1091.9 L1347.8 1092.8 L1345.6 1093.1 L1343.4 1092.2 L1341.2 1093.8 L1339 1092.2 L1336.8 1091.4 L1334.6 1093.1 L1332.4 1092.8 L1330.2 1092.2 L1328 1094.3 L1325.8 1093.3 L1323.6 1092.6 L1321.4 1095 L1319.2 1092.8 L1317 1093.5 L1314.8 1092.7 L1312.6 1093.3 L1310.4 1092.1 L1308.2 1092.9 L1306 1091.9 L1303.8 1092.6 L1301.6 1091.8 L1299.4 1093 L1297.2 1094.4 L1295 1091.5 L1292.8 1091.9 L1290.6 1092.6 L1288.4 1093.7 L1286.2 1092.3 L1284 1092.8 L1281.8 1092.4 L1279.6 1091.8 L1277.4 1092.9 L1275.2 1092.3 L1273 1091.6 L1270.8 1093.5 L1268.6 1092.8 L1266.4 1093.4 L1264.2 1091.5 L1262 1093 L1259.8 1092.4 L1257.6 1092.9 L1255.4 1091.6 L1253.2 1091.9 L1251 1092.6 L1248.8 1093 L1246.6 1094.2 L1244.4 1092.6 L1242.2 1092.4 L1240 1093.4 L1237.8 1093.3 L1235.6 1092.6 L1233.4 1092.6 L1231.2 1092.2 L1229 1093.7 L1226.8 1093 L1224.6 1092.1 L1222.4 1092.6 L1220.2 1092.1 L1218 1093.1 L1215.8 1092.6 L1213.6 1092.7 L1211.4 1092.2 L1209.2 1092.5 L1207 1092.1 L1204.8 1091.9 L1202.6 1093 L1200.4 1091.4 L1198.2 1091.9 L1196 1092.8 L1193.8 1093 L1191.6 1094 L1189.4 1092.4 L1187.2 1092.7 L1185 1092.3 L1182.8 1093 L1180.6 1093.4 L1178.4 1092.6 L1176.2 1091.9 L1174 1093.1 L1171.8 1093.3 L1169.6 1093.4 L1167.4 1092.1 L1165.2 1092.7 L1163 1092.5 L1160.8 1092.3 L1158.6 1093.8 L1156.4 1092.1 L1154.2 1093.1 L1152 1093.8 L1149.8 1091.9 L1147.6 1092 L1145.4 1091.5 L1143.2 1091.7 L1141 1092.4 L1138.8 1091.8 L1136.6 1093.4 L1134.4 1091.8 L1132.2 1092.3 L1130 1093.3 L1127.8 1091.8 L1125.6 1092.6 L1123.4 1091.9 L1121.2 1093.8 L1119 1092.2 L1116.8 1092.1 L1114.6 1092.6 L1112.4 1093.1 L1110.2 1092.3 L1108 1093.1 L1105.8 1091.7 L1103.6 1092.8 L1101.4 1093.5 L1099.2 1093.2 L1097 1091.8 L1094.8 1093.5 L1092.6 1092.6 L1090.4 1092.9 L1088.2 1093.1 L1086 1094 L1083.8 1092.9 L1081.6 1092.5 L1079.4 1092.5 L1077.2 1091.8 L1075 1092.6 L1072.8 1094.4 L1070.6 1094.5 L1068.4 1093.8 L1066.2 1092.4 L1064 1092.8 L1061.8 1092.2 L1059.6 1092 L1057.4 1093.5 L1055.2 1091.5 L1053 1092.8 L1050.8 1092.7 L1048.6 1092.8 L1046.4 1092.4 L1044.2 1093.5 L1042 1092.8 L1039.8 1091.8 L1037.6 1092.1 L1035.4 1093.1 L1033.2 1092 L1031 1092.8 L1028.8 1093.7 L1026.6 1092.5 L1024.4 1092.6 L1022.2 1092.3 L1020 1092.8 L1017.8 1092.4 L1015.6 1092.9 L1013.4 1092.6 L1011.2 1094.8 L1009 1092.1 L1006.8 1092 L1004.6 1091.5 L1002.4 1093.3 L1000.2 1091.5 L998 1091.5 L995.8 1092.2 L993.6 1092.7 L991.4 1092.4 L989.2 1092.9 L987 1093 L984.8 1092.6 L982.6 1093.6 L980.4 1092.3 L978.2 1093.5 L976 1092.6 L973.8 1091.3 L971.6 1091.6 L969.4 1091.5 L967.2 1092.3 L965 1092.2 L962.8 1092.2 L960.6 1091.3 L958.4 1092.9 L956.2 1092.3 L954 1092.9 L951.8 1092.5 L949.6 1093.6 L947.4 1092 L945.2 1091.6 L943 1094.3 L940.8 1092.2 L938.6 1092.5 L936.4 1093.1 L934.2 1092.2 L932 1092.9 L929.8 1093.2 L927.6 1092.9 L925.4 1091.7 L923.2 1092.2 L921 1093.1 L918.8 1092.5 L916.6 1091.9 L914.4 1092.2 L912.2 1093 L910 1092.8 L907.8 1092.2 L905.6 1092.1 L903.4 1092.4 L901.2 1092.1 L899 1091.3 L896.8 1092.5 L894.6 1094.1 L892.4 1093 L890.2 1092.7 L888 1092.9 L885.8 1092.4 L883.6 1093.9 L881.4 1091.9 L879.2 1093.9 L877 1092.3 L874.8 1092.8 L872.6 1092.4 L870.4 1094.2 L868.2 1092.2 L866 1092 L863.8 1093.2 L861.6 1092.9 L859.4 1092 L857.2 1093 L855 1093 L852.8 1091.6 L850.6 1091.7 L848.4 1092.3 L846.2 1091.4 L844 1092.7 L841.8 1091.4 L839.6 1093.2 L837.4 1093 L835.2 1092 L833 1091.7 L830.8 1092.3 L828.6 1092.3 L826.4 1093 L824.2 1091.4 L822 1092.9 L819.8 1093.7 L817.6 1092.1 L815.4 1092.5 L813.2 1091.7 L811 1092.8 L808.8 1091.6 L806.6 1092.5 L804.4 1092.3 L802.2 1092 L800 1092.7 L797.8 1092.8 L795.6 1092.2 L793.4 1091.9 L791.2 1093.2 L789 1093.1 L786.8 1092.7 L784.6 1092.2 L782.4 1092.3 L780.2 1094.4 L778 1093.4 L775.8 1091.7 L773.6 1092.8 L771.4 1092.3 L769.2 1092.7 L767 1093.2 L764.8 1093.3 L762.6 1092.8 L760.4 1091.6 L758.2 1092.3 L756 1092.7 L753.8 1092 L751.6 1093.2 L749.4 1092.7 L747.2 1092.5 L745 1093.7 L742.8 1092.9 L740.6 1092.9 L738.4 1092.7 L736.2 1092.8 L734 1091.8 L731.8 1093.4 L729.6 1092 L727.4 1092.7 L725.2 1092.7 L723 1092.6 L720.8 1091.9 L718.6 1092.4 L716.4 1094.4 L714.2 1094.1 L712 1091.7 L709.8 1092.6 L707.6 1092.4 L705.4 1094.9 L703.2 1092.2 L701 1093.4 L698.8 1091.5 L696.6 1092.2 L694.4 1093.3 L692.2 1091.6 L690 1092.4 L687.8 1091.9 L685.6 1093 L683.4 1092.1 L681.2 1091.2 L679 1092.9 L676.8 1093.3 L674.6 1092.8 L672.4 1091.4 L670.2 1093.3 L668 1092.4 L665.8 1094.3 L663.6 1093.2 L661.4 1091.8 L659.2 1091.7 L657 1092.1 L654.8 1093.2 L652.6 1092.4 L650.4 1092.9 L648.2 1092.7 L646 1093 L643.8 1093.3 L641.6 1092.2 L639.4 1092.8 L637.2 1092.9 L635 1093.2 L632.8 1092.5 L630.6 1092.2 L628.4 1092.4 L626.2 1094.4 L624 1091.9 L621.8 1091.7 L619.6 1093.2 L617.4 1092.8 L615.2 1092.9 L613 1092.5 L610.8 1092.2 L608.6 1092.8 L606.4 1091.7 L604.2 1092.3 L602 1094.5 L599.8 1093.7 L597.6 1093.1 L595.4 1093.2 L593.2 1091.9 L591 1092.4 L588.8 1092 L586.6 1092.4 L584.4 1093 L582.2 1094.9 L580 1093.8 L577.8 1093 L575.6 1093.8 L573.4 1091.8 L571.2 1093 L569 1092.1 L566.8 1092.6 L564.6 1093.7 L562.4 1093.2 L560.2 1092.6 L558 1092.6 L555.8 1092.5 L553.6 1091.8 L551.4 1094.2 L549.2 1092.8 L547 1092.2 L544.8 1093.2 L542.6 1092.5 L540.4 1091.3 L538.2 1092.7 L536 1092.3 L533.8 1093.2 L531.6 1094.2 L529.4 1093.1 L527.2 1092.4 L525 1092.8 L522.8 1093.3 L520.6 1095.1 L518.4 1092.4 L516.2 1092.7 L514 1092.3Z" fill="#7cb5ec" stroke="#7cb5ec" stroke-width="1.5"/><path d="M514.1 1093.2h0M527 1084.2h0M539.7 1093.2h0M554.2 1084.2h0M566.4 1093.2h0M580.3 1084.2h0M593 1093.2h0M607 1084.2h0M619 1084.2h0M633.6 1084.2h0M646.3 1084.2h0M659.6 1093.2h0M672.1 1084.2h0M684.8 1093.2h0M698.9 1084.2h0M712.2 1093.2h0M725.6 1093.2h0M738 1093.2h0M750.8 1084.2h0M763.9 1084.2h0M778.4 1084.2h0M791.8 1093.2h0M804.5 1093.2h0M817.6 1084.2h0M830.1 1093.2h0M844.6 1093.2h0M856.5 1093.2h0M869.7 1093.2h0M883.1 1084.2h0M896.3 1093.2h0M909.2 1084.2h0M922.3 1084.2h0M936.1 1093.2h0M949.9 1084.2h0M963.5 1093.2h0M977 1093.2h0M988.6 1093.2h0M1001.9 1093.2h0M1016.1 1093.2h0M1028.2 1084.2h0M1041.9 1093.2h0M1054.3 1093.2h0M1068.4 1084.2h0M1082.1 1093.2h0M1094 1084.2h0M1107.8 1093.2h0M1122 1084.2h0M1133.8 1093.2h0M1148.5 1084.2h0M1161 1084.2h0M1173.1 1084.2h0M1186.5 1093.2h0M1201.1 1084.2h0M1214.5 1084.2h0M1227.1 1093.2h0M1240.2 1093.2h0M1253.2 1093.2h0M1265.5 1093.2h0M1280.3 1084.2h0M1293.5 1093.2h0M1306.5 1093.2h0M1319.7 1093.2h0M1331.7 1084.2h0M1345.3 1093.2h0M1359.5 1084.2h0M1371.5 1084.2h0M1384.7 1093.2h0M1399.3 1093.2h0M1411.4 1084.2h0M1424.7 1084.2h0M1438.3 1093.2h0M1450.9 1093.2h0M1463.9 1093.2h0M1478.4 1093.2h0M1490.8 1093.2h0M1503.6 1093.2h0M1517.2 1084.2h0M1531.3 1084.2h0M1543.6 1093.2h0M1557 1093.2h0M1569.9 1084.2h0M1582.8 1084.2h0M1596.6 1084.2h0M1609.1 1084.2h0M1622.5 1093.2h0M1635.3 1084.2h0M1649.9 1093.2h0M1663 1093.2h0M1675.7 1093.2h0M1689.2 1084.2h0M1701.9 1093.2h0M1716.1 1084.2h0M1728.7 1093.2h0M1741.2 1093.2h0M1755.8 1084.2h0M1767.3 1084.2h0M1782 1084.2h0M1793.7 1084.2h0M1807.7 1093.2h0M1820.3 1093.2h0M1834.2 1093.2h0M1847.9 1093.2h0M1860.9 1093.2h0M1872.8 1084.2h0M1886.1 1093.2h0M1899 1093.2h0M1912.8 1093.2h0M1926.4 1084.2h0M1939.1 1093.2h0" stroke="#7cb5ec" stroke-width="5" stroke-linecap="round"/><path d="M1543.5 1089V1067.5M1586.3 1089V1071.0M1629.0 1089V1072.6M1680.4 1089V1062.0M1680.4 1089V1118.2M1415.2 1089V1095.4M1415.2 1089V1083.0M1569.2 1089V1099.2M1650.0 1089V1099.2M1543.5 1089V1080.5M1586.3 1089V1076.0M1680.4 1089V1081.0M762.0 1089V1097.0M872.0 1089V1096.0" stroke="#7cb5ec" stroke-width="1.3"/><path d="M1543.5 1067.5h0M1586.3 1071h0M1629 1072.6h0M1680.4 1062h0M1680.4 1118.2h0M1415.2 1095.4h0M1415.2 1083h0M1569.2 1099.2h0M1650 1099.2h0M1543.5 1080.5h0M1586.3 1076h0M1680.4 1081h0M762 1097h0M872 1096h0" stroke="#7cb5ec" stroke-width="5" stroke-linecap="round"/><path d="M1580 1082.5h25M1640 1082h10M1050 1083h8" stroke="#7cb5ec" stroke-width="4"/></svg>
<div class="a" style="left:433px;top:1187px;width:1528px;height:57px;background:#e8f0f8"></div>
<div class="a" style="left:433px;top:1244px;width:1528px;height:18px;background:#fafbfc"></div>
<div class="a" style="left:438px;top:1187px;width:172px;height:57px;background:linear-gradient(90deg,#d4e4f2,#c7dbec);clip-path:polygon(0 0,100% 0,100% calc(100% - 12px),calc(100% - 12px) 100%,0 100%)"></div><div class="t" style="left:455.5px;top:1207.19px;font-size:17.50px;color:#222;letter-spacing:-0.01px;">Charts Elements</div>
<div class="a" style="left:610px;top:1187px;width:99px;height:57px;background:linear-gradient(90deg,#2d6898,#4f86ad);clip-path:polygon(0 0,100% 0,100% calc(100% - 12px),calc(100% - 12px) 100%,0 100%)"></div><div class="t" style="left:633.2px;top:1207.19px;font-size:17.50px;color:#fff;letter-spacing:-0.05px;">Charts</div>
<div class="a" style="left:709px;top:1187px;width:101px;height:57px;background:linear-gradient(90deg,#d4e4f2,#c7dbec);clip-path:polygon(0 0,100% 0,100% calc(100% - 12px),calc(100% - 12px) 100%,0 100%)"></div><div class="t" style="left:732.6px;top:1207.19px;font-size:17.50px;color:#222;letter-spacing:-0.22px;">Report</div>
<div class="a" style="left:810px;top:1187px;width:111px;height:57px;background:linear-gradient(90deg,#d4e4f2,#c7dbec);clip-path:polygon(0 0,100% 0,100% calc(100% - 12px),calc(100% - 12px) 100%,0 100%)"></div><div class="t" style="left:833.3px;top:1207.19px;font-size:17.50px;color:#222;letter-spacing:-0.22px;">Console</div>
<div class="a" style="left:1886px;top:1173px;width:74.4px;height:74.4px;border-radius:50%;background:#465f82;box-shadow:0 3px 8px rgba(0,0,0,0.28)"></div>
<svg class="a" style="left:1898px;top:1185px" width="50" height="50" viewBox="0 0 50 50"><path d="M38.5 29L44.2 44L29.5 39.5Z" fill="#fff"/><circle cx="24.5" cy="24.7" r="16.25" fill="none" stroke="#fff" stroke-width="4.7"/><circle cx="24.5" cy="24.7" r="13.9" fill="#465f82"/><path d="M33 35L37.5 38.6L36.6 32.5Z" fill="#465f82"/></svg>
</body></html>
